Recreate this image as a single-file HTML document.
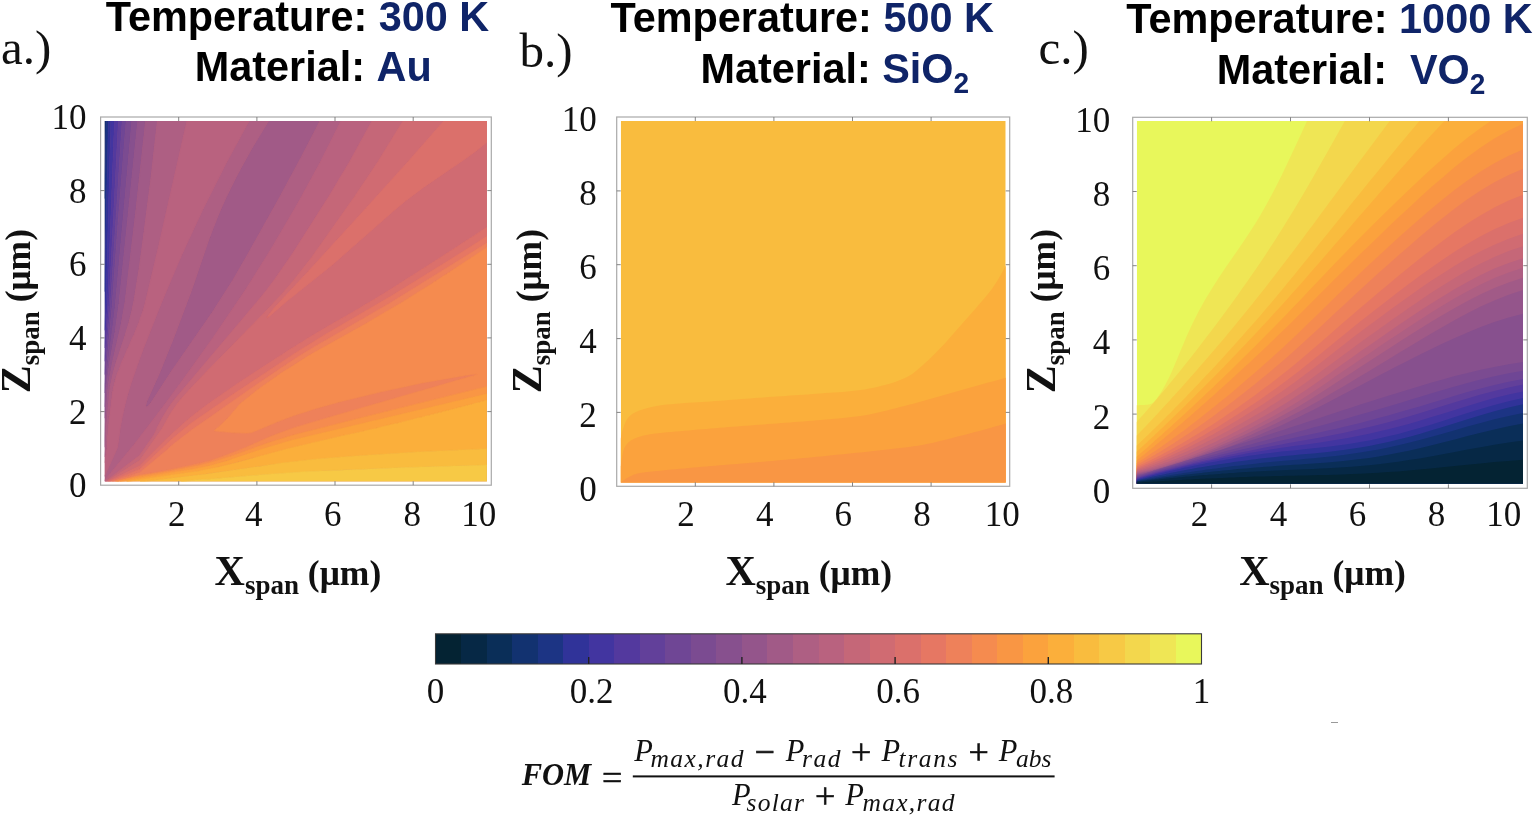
<!DOCTYPE html><html><head><meta charset="utf-8"><title>FOM contour figure</title>
<style>html,body{margin:0;padding:0;background:#fff;}svg{display:block}.ss{font-family:"Liberation Sans",sans-serif;font-weight:bold}.sr{font-family:"Liberation Serif",serif}.sb{font-family:"Liberation Serif",serif;font-weight:bold}.si{font-family:"Liberation Serif",serif;font-style:italic}</style></head><body>
<svg width="1534" height="818" viewBox="0 0 1534 818">
<rect width="1534" height="818" fill="#fff"/>
<clipPath id="clipa"><rect x="104.7" y="121.0" width="382.2" height="360.6"/></clipPath>
<g clip-path="url(#clipa)">
<rect x="104.7" y="121.0" width="382.2" height="360.6" fill="#d06b72"/><path d="M104.5 198.6l1.7 -77.9 -1.7 0Z" fill="#123270" stroke="#123270" stroke-width="0.6" fill-rule="evenodd"/>
<path d="M104.5 291.6l3.9 -170.9 -2.2 0 -1.7 78Z" fill="#1c3484" stroke="#1c3484" stroke-width="0.6" fill-rule="evenodd"/>
<path d="M104.5 329.6l1.1 -17 0.9 -26 4.3 -165.9 -2.4 0 -3.9 170.9 0 38.7Z" fill="#303399" stroke="#303399" stroke-width="0.6" fill-rule="evenodd"/>
<path d="M104.6 347.6l3 -45 6.9 -181.9 -3.7 0 -4.3 165.9 -0.9 26 -1.1 17.7 0 17.7Z" fill="#4235a0" stroke="#4235a0" stroke-width="0.6" fill-rule="evenodd"/>
<path d="M104.6 360.6l4.3 -55 9.5 -184.9 -3.9 0 -6.8 179.9 -1.3 23 -1.9 24.4 0 13.3Z" fill="#53399e" stroke="#53399e" stroke-width="0.6" fill-rule="evenodd"/>
<path d="M104.5 374.6l5.8 -67 11.9 -186.9 -3.8 0 -9.5 184.9 -4.4 55.7Z" fill="#62409a" stroke="#62409a" stroke-width="0.6" fill-rule="evenodd"/>
<path d="M104.5 392.6l2 -28.2 5.6 -57.8 6.4 -90.1 7.7 -95.8 -4 0 -11.9 186.9 -5.8 67.2 0 18.2Z" fill="#6f4695" stroke="#6f4695" stroke-width="0.6" fill-rule="evenodd"/>
<path d="M104.5 406.6l1.2 -21 1.3 -13 6.3 -49 2.1 -19 16.5 -183.9 -5.7 0 -0.7 7 -7 88.8 -6.4 90.1 -7.2 77 -0.4 9.4 0 13.9Z" fill="#7b4b91" stroke="#7b4b91" stroke-width="0.6" fill-rule="evenodd"/>
<path d="M104.6 417.5l1.9 -31.2 1 -8.9 2 -13.8 5.6 -32 3.9 -28 18.8 -182.9 -5.9 0 -16.8 186.9 -6.8 54 -2.4 22 -1.4 23.3 0 11.3Z" fill="#87508e" stroke="#87508e" stroke-width="0.6" fill-rule="evenodd"/>
<path d="M104.5 446.5l1 -25.5 2 -28.6 1 -8.8 4 -21.7 8.8 -38.3 3.8 -22 11 -93 9.5 -87.9 -7.8 0 -0.3 2 -18.5 180.9 -3.9 28 -5.6 32 -3 22.7 -2 31.9 0 29Z" fill="#94558b" stroke="#94558b" stroke-width="0.6" fill-rule="evenodd"/>
<path d="M104.6 456.5l1.1 -8 0.8 -22 1 -13 3 -28.4 3 -13.5 3 -10.2 8.5 -25.8 3.9 -13 3 -12 2.1 -10 5.1 -32 5 -37 7 -54.9 6.3 -56 -11.8 0 -9.5 87.9 -11 93 -3.8 22 -8.8 38.3 -4 21.7 -1 9 -2.4 35.9 -0.5 12 -0.1 16.4ZM146.5 407.2l2.3 -1.6 2.7 -3.5 19.8 -30.5 40.9 -59 20.3 -31.9 14 -24.1 33 -59.1 22 -40.8 18.6 -36 -51.4 0 -11.2 18 -7 12 -13 23.8 -12 24.1 -8 18.3 -8 20.7 -18.4 54 -17.6 46.6 -14 34.8 -12.8 28.6 -1.1 4Z" fill="#a15a87" stroke="#a15a87" stroke-width="0.6" fill-rule="evenodd"/>
<path d="M105.4 479.5l29.6 -36 36.5 -47.9 39 -54.1 34.6 -50.9 22.7 -36 27.1 -46 25.1 -45.9 21.1 -42 -21 0 -18.6 36 -22 40.8 -33 59.1 -14 24.1 -20.3 31.9 -40.9 59 -19.8 30.5 -2.7 3.5 -2.3 1.6 -0.9 -1.6 1.1 -4 12.8 -28.6 14 -34.8 18.3 -48.6 17.7 -52 11 -27.9 10 -21.4 10 -19.6 10 -18 18.2 -30 -19.5 0 -22.3 41 -24.1 47.9 -16 34 -10.7 24 -19 46 -17.9 46 -9.7 28.5 -4 14 -3.2 14.4 -2.2 12 -2.6 19 -12.7 28 -0.3 5ZM105.1 461.5l0.4 -5 0.8 -2 0.2 -4 0.8 -2 0.2 -12 0.7 -3 0.3 -8.1 0.7 -2.9 0.3 -6.2 0.7 -2.8 0.3 -5.7 0.7 -2.2 0.3 -5.9 0.7 -2.1 0.3 -5.3 0.6 -1.7 0.4 -4.1 0.6 -0.9 0.4 -2.8 0.7 -1.2 0.3 -2.2 2 -6.3 1.7 -3.5 2.3 -7 2.5 -5 3.5 -8.8 0.9 -1.2 4.1 -10.1 1.6 -2.9 4.8 -12 4.2 -12 2 -7 13 -55 28.9 -127.9 -29.6 0 -6.3 56 -7 54.9 -5 37 -5.1 32 -2.1 10 -3 12 -3.9 13 -8.5 25.8 -3 10.2 -3 13.5 -1 7.1 -3 34.2 -0.8 22.1 -1.2 8.4 0 5.6Z" fill="#ae5f83" stroke="#ae5f83" stroke-width="0.6" fill-rule="evenodd"/>
<path d="M105.5 481.4l34 -25.9 14 -20 3 -5.6 0.2 -1.4 6.4 -12 6.9 -10.9 4.5 -6.2 82 -96.9 9 -11 9 -11.9 17.4 -25 36.9 -58 20.8 -34.9 22.5 -41 -31 0 -21.1 42 -18.9 34.9 -27.3 47 -28 45 -33.3 49 -30 42 -29 39 -18.5 23.9 -30.5 37 0 1ZM104.5 476.5l13 -29 2.6 -19 3.4 -17.8 4 -16 5 -15.9 10.8 -30.2 18.6 -47 20 -47 20.9 -45 24.1 -47.9 22.3 -41 -62.2 0 -28.9 127.9 -13 55 -2 7 -4.2 12 -4.8 12 -1.6 2.9 -4.1 10.1 -0.9 1.2 -3.5 8.8 -2.5 5 -2.3 7 -1.7 3.5 -2 6.3 -0.3 2.2 -0.7 1.2 -0.4 2.8 -0.6 0.9 -0.4 4.1 -0.6 1.7 -0.3 5.3 -0.7 2.1 -0.3 5.9 -0.7 2.2 -0.3 5.7 -0.7 2.8 -0.3 6.2 -0.7 2.9 -0.3 8.1 -0.7 3 -0.2 12 -0.8 2 -0.2 4 -0.8 2 -0.2 4 -0.8 2Z" fill="#b9627f" stroke="#b9627f" stroke-width="0.6" fill-rule="evenodd"/>
<path d="M105.5 481.5l0.9 0 1.1 -0.6 32 -20.3 22.7 -32.1 8.3 -15 6 -8.7 5 -6.3 9 -10 16.2 -16.9 56.8 -58 18 -19 12 -14 18 -23 43.2 -61 23.3 -34.9 25.2 -41 -31.1 0 -22.5 41 -20.8 34.9 -36.9 58 -17.4 25 -9 11.9 -9 11 -82 96.9 -4.5 6.2 -6.9 10.9 -6.4 12 -0.2 1.4 -3 5.6 -14 20 -31 23.4Z" fill="#c56778" stroke="#c56778" stroke-width="0.6" fill-rule="evenodd"/>
<path d="M106.5 481.5l1.6 0 31.4 -15.4 29 -29.1 19 -17.1 10 -8 12 -8.9 32 -22.1 40 -26 1 -0.3 2 -1.6 8 -5.2 1 -0.2 2 -1.7 1 -0.3 3.9 -2.8 1.1 -0.2 6.9 -4.8 1.1 -0.2 3.9 -2.8 1.1 -0.2 3.9 -2.8 1.1 -0.2 10.9 -6.8 1.1 -0.2 3.9 -2.8 1.1 -0.2 0.9 -0.9 1 -0.1 4 -2.7 1.1 -0.3 0.9 -0.9 1 -0.1 4 -2.8 1.1 -0.2 0.9 -0.9 1 -0.1 2 -1.7 1.1 -0.3 0.9 -0.9 1 -0.1 9 -5.8 1.1 -0.2 0.9 -0.9 1 -0.1 2 -1.8 1.1 -0.2 0.9 -0.9 1 -0.1 2 -1.8 1.1 -0.2 3.9 -2.8 1.1 -0.2 3.9 -2.9 1 -0.1 2 -1.8 1.1 -0.2 3.9 -2.9 1 -0.1 2 -1.8 1 -0.2 2 -1.8 1 -0.2 7 -4.9 1 -0.1 2 -1.8 1 -0.2 2 -1.7 1.1 -0.3 3.9 -2.9 1 -0.1 2 -1.8 1 -0.2 2 -1.7 1 -0.3 4 -2.9 1 -0.1 2 -1.8 1 -0.2 2 -1.8 1 -0.2 2 -1.7 1 -0.3 4 -2.9 0.7 -0.1 2.3 -1.8 1 -0.2 2 -1.8 1 -0.2 2 -1.7 1 -0.3 2 -1.6 1 -0.4 7 -4.8 0.7 -0.2 2.3 -1.8 1 -0.2 2 -1.8 1 -0.2 2 -1.7 1 -0.3 2 -1.7 1 -0.3 2 -1.7 1 -0.3 2 -1.6 4 -2.4 1 -0.9 0 -84.9 -9.7 7.9 -10.8 8 -43.5 29.7 -17 12.9 -13 10.8 -45 39.8 -17 14.6 -45 36.1 -17.9 15.4 -0.9 -0.4 2.9 -4.1 4 -4.9 33.6 -36 57.6 -63 42.3 -46.9 36.1 -41 -40.9 0 -25.2 41 -23.3 34.9 -43.2 61 -18 23 -12 14 -18 19 -56.8 58 -16.2 16.9 -9 10 -5 6.3 -6 8.7 -8.3 15 -22.7 32.1ZM267.0 317.6l0.5 -0.7 0.2 0.7Z" fill="#d06b72" stroke="#d06b72" stroke-width="0.6" fill-rule="evenodd"/>
<path d="M108.5 481.5l1.2 0 29.8 -12.1 33 -30.9 13 -11 12 -8.9 45 -30.6 45 -29.8 21.9 -14.1 76.1 -44.5 51.9 -32 49.3 -31 0.7 -0.5 0 -9.4 -7 4.9 -1 0.3 -2 1.7 -1 0.3 -2 1.7 -1 0.3 -2 1.7 -1 0.2 -2 1.8 -1 0.2 -2.3 1.8 -0.7 0.2 -7 4.8 -1 0.4 -2 1.6 -1 0.3 -2 1.7 -1 0.2 -2 1.8 -1 0.2 -2.3 1.8 -0.7 0.1 -4 2.9 -1 0.3 -2 1.7 -1 0.2 -2 1.8 -1 0.2 -2 1.8 -1 0.1 -4 2.9 -1 0.3 -2 1.7 -1 0.2 -2 1.8 -1 0.1 -3.9 2.9 -1.1 0.3 -2 1.7 -1 0.2 -2 1.8 -1 0.1 -7 4.9 -1 0.2 -2 1.8 -1 0.2 -2 1.8 -1 0.1 -3.9 2.9 -1.1 0.2 -2 1.8 -1 0.1 -3.9 2.9 -1.1 0.2 -3.9 2.8 -1.1 0.2 -2 1.8 -1 0.1 -0.9 0.9 -1.1 0.2 -2 1.8 -1 0.1 -0.9 0.9 -1.1 0.2 -9 5.8 -1 0.1 -0.9 0.9 -1.1 0.3 -2 1.7 -1 0.1 -0.9 0.9 -1.1 0.2 -4 2.8 -1 0.1 -0.9 0.9 -1.1 0.3 -4 2.7 -1 0.1 -0.9 0.9 -1.1 0.2 -3.9 2.8 -1.1 0.2 -10.9 6.8 -1.1 0.2 -3.9 2.8 -1.1 0.2 -3.9 2.8 -1.1 0.2 -6.9 4.8 -1.1 0.2 -3.9 2.8 -1 0.3 -2 1.7 -1 0.2 -8 5.2 -2 1.6 -1 0.3 -43 28 -29 20.1 -12 8.9 -10 8 -19 17.1 -29 29.1 -31.4 15.4ZM267.5 317.8l0.2 -0.2 -0.2 -0.7 -0.5 0.7ZM268.5 317.0l17.9 -15.4 46 -36.9 61 -53.6 12 -10.1 18 -13.6 43.5 -29.7 10.8 -8 9.7 -7.9 0 -21.1 -43.3 0 -36.1 41 -42.3 46.9 -57.6 63 -33.6 36 -4 4.9 -2.9 4.1Z" fill="#db706b" stroke="#db706b" stroke-width="0.6" fill-rule="evenodd"/>
<path d="M110.5 481.5l3 -0.4 14 -4.5 1 -0.6 2 -0.4 1 -0.6 2 -0.4 1 -0.6 5 -1.3 28 -23.2 1 -1.3 4 -3.4 15 -11.8 31 -22 46 -31.9 27 -18 16.9 -10.8 18 -10.7 60 -34.5 101 -62.4 0 -6.6 -42 26.5 -55 34 -66 38.4 -28.9 17.9 -62 41.1 -42.8 29.5 -18.2 15 -33 30.9 -29.8 12.1Z" fill="#e67763" stroke="#e67763" stroke-width="0.6" fill-rule="evenodd"/>
<path d="M112.5 481.5l2.5 0 0.5 -0.4 3 -0.4 1 -0.6 3 -0.5 17 -4.5 10.7 -1.6 20.3 -3.8 28.9 -6.2 10.1 -2.6 12.9 -4.4 13.3 -5 9.9 -4 25.9 -11.5 22 -8.1 35.9 -10.7 144.3 -41.6 0.7 -0.6 2.7 -0.4 -0.7 -0.5 -1 0 -10 1.3 -43 7.5 -42 9.1 -42 10.2 -23 6.5 -21.9 7 -16 6.1 -26 10.9 -5 0.4 -12 -0.3 -19 -1.7 -1.2 -0.6 7 -6 6.2 -6 12.8 -14.9 15.2 -12.3 20.3 -14.7 16.6 -11 18 -11 70 -39.4 41 -25 24 -15.6 1 -0.3 2 -1.7 4 -2.2 33 -21.9 2 -1.5 0 -4.3 -99 61.2 -71 41 -15 9.1 -16.9 11 -31 20.9 -64 44.9 -18 14 -4 3.4 -1 1.3 -28 23.2 -5 1.3 -1 0.6 -2 0.4 -1 0.6 -2 0.4 -1 0.6 -15.7 4.9Z" fill="#ee815a" stroke="#ee815a" stroke-width="0.6" fill-rule="evenodd"/>
<path d="M115.5 481.5l3 -0.3 19 -4.7 33 -5.5 30 -5.9 8 -2 22 -6.9 40 -14.2 23 -7 66.9 -17.1 127 -31.6 0 -139.3 -38 25.3 -1 0.3 -2 1.7 -1 0.3 -10 6.7 -1 0.3 -2 1.6 -32 20 -34 20.1 -56 31.3 -28.9 18.1 -23 16.3 -18.2 14.6 -12.8 14.9 -6.2 6 -7 6 1.2 0.6 19 1.7 12 0.3 5 -0.4 26 -10.9 16 -6.1 21.9 -7 23 -6.5 42 -10.2 42 -9.1 43 -7.5 10 -1.3 1 0 0.7 0.5 -2.7 0.4 -0.7 0.6 -144.3 41.6 -35.9 10.7 -22 8.1 -25.9 11.5 -9.9 4 -13.3 5 -12.9 4.4 -10.1 2.6 -28.9 6.2 -20.3 3.8 -10.7 1.6 -17 4.5 -3 0.5 -1 0.6 -3 0.4 -0.5 0.4Z" fill="#f58b4f" stroke="#f58b4f" stroke-width="0.6" fill-rule="evenodd"/>
<path d="M116.5 481.5l3.6 0 19.4 -3.6 31 -4.9 30 -5.2 10 -2.2 22 -6.5 34.1 -11.6 23.9 -7 196.9 -46.8 0 -7.4 -127 31.6 -66.9 17.1 -23 7 -40 14.2 -22 6.9 -8 2 -30 5.9 -33 5.5Z" fill="#f99644" stroke="#f99644" stroke-width="0.6" fill-rule="evenodd"/>
<path d="M120.5 481.5l6.2 0 51.8 -7.4 26 -4.1 18 -3.9 65.5 -17.6 55.4 -13 20 -4.3 6 -1.7 7 -1.3 10 -2.7 3 -0.4 1 -0.6 3 -0.4 1.2 -0.6 2.8 -0.3 21.7 -5.7 2.3 -0.3 5.4 -1.7 2.6 -0.3 1.3 -0.7 2.7 -0.3 1.1 -0.7 2.9 -0.3 1 -0.7 3 -0.3 1 -0.7 3 -0.4 0.9 -0.5 2.1 -0.2 1.9 -0.8 2.1 -0.3 1.9 -0.7 2.1 -0.3 1.8 -0.7 2.2 -0.3 1.6 -0.7 2.4 -0.3 1.1 -0.7 1.9 -0.2 1.9 -0.8 2.1 -0.2 1.9 -0.8 6.1 -1.3 1.3 -0.7 2.7 -0.4 1 -0.6 3 -0.4 0 -6.5 -196.9 46.8 -27 8 -37 12.5 -18 5.1 -15 2.9 -54 8.9 -19.4 3.6Z" fill="#fba23d" stroke="#fba23d" stroke-width="0.6" fill-rule="evenodd"/>
<path d="M127.5 481.5l17 -0.2 54 -6.2 84 -12.2 34.9 -4 37 -2.9 63 -4.1 70 -3.2 0 -48.5 -3 0.4 -1 0.6 -2.7 0.4 -1.3 0.7 -6.1 1.3 -1.9 0.8 -2.1 0.2 -1.9 0.8 -1.9 0.2 -1.1 0.7 -2.4 0.3 -1.6 0.7 -2.2 0.3 -1.8 0.7 -2.1 0.3 -1.9 0.7 -2.1 0.3 -1.9 0.8 -2.1 0.2 -0.9 0.5 -3 0.4 -1 0.7 -3 0.3 -1 0.7 -2.9 0.3 -1.1 0.7 -2.7 0.3 -1.3 0.7 -2.6 0.3 -5.4 1.7 -2.3 0.3 -21.7 5.7 -2.8 0.3 -1.2 0.6 -3 0.4 -1 0.6 -3 0.4 -10 2.7 -7 1.3 -6 1.7 -20 4.3 -55.4 13 -49.5 13.5 -20 5 -20 4 -71.8 10.5Z" fill="#fbaf3b" stroke="#fbaf3b" stroke-width="0.6" fill-rule="evenodd"/>
<path d="M140.5 481.5l40.7 0 19.3 -2 8 -0.3 56.2 -4.7 63.6 -4 76.6 -3 82.5 -2.4 0 -16.4 -71 3.3 -62 4 -38 3 -34.9 4.1 -75 11 -61 7.1 -5.5 0.3Z" fill="#f9bc3e" stroke="#f9bc3e" stroke-width="0.6" fill-rule="evenodd"/>
<path d="M181.5 481.5l305.9 0 0 -16.4 -82.5 2.4 -95.9 4 -44.3 3 -56.2 4.7 -8 0.3 -19.3 2Z" fill="#f7c945" stroke="#f7c945" stroke-width="0.6" fill-rule="evenodd"/>
</g>
<rect x="100.6" y="117.0" width="390.7" height="368.2" fill="none" stroke="#a9a9a9" stroke-width="1.2"/>
<path d="M178.7 485.2v-4 M178.7 117.0v4 M100.6 411.6h4 M491.3 411.6h-4 M256.9 485.2v-4 M256.9 117.0v4 M100.6 337.9h4 M491.3 337.9h-4 M335.0 485.2v-4 M335.0 117.0v4 M100.6 264.3h4 M491.3 264.3h-4 M413.2 485.2v-4 M413.2 117.0v4 M100.6 190.6h4 M491.3 190.6h-4" stroke="#777" stroke-width="0.9" fill="none"/>
<clipPath id="clipb"><rect x="620.8" y="121.0" width="384.9" height="361.5"/></clipPath>
<g clip-path="url(#clipb)">
<rect x="620.8" y="121.0" width="384.9" height="361.5" fill="#f9bc3e"/>
<path d="M620.6 438.3 L621.8 432.7 L623.1 428.7 L624.3 425.1 L625.5 422.1 L626.7 419.7 L627.9 417.9 L629.2 416.6 L630.4 415.5 L631.6 414.5 L632.8 413.6 L634.0 412.9 L635.3 412.3 L636.5 411.7 L637.7 411.2 L638.9 410.7 L640.1 410.3 L641.4 409.9 L642.6 409.5 L643.8 409.1 L645.0 408.7 L646.2 408.4 L647.5 408.0 L648.7 407.7 L649.9 407.4 L651.1 407.1 L652.3 406.9 L653.6 406.6 L654.8 406.4 L656.0 406.1 L658.0 405.8 L662.4 405.1 L666.8 404.6 L671.2 404.2 L675.6 403.8 L680.0 403.4 L684.4 403.1 L688.8 402.8 L693.2 402.6 L697.6 402.3 L702.0 402.0 L706.4 401.7 L710.8 401.4 L715.2 401.1 L719.6 400.8 L724.0 400.4 L728.4 400.1 L732.8 399.8 L737.2 399.4 L741.6 399.1 L746.0 398.7 L750.4 398.4 L754.8 398.1 L759.2 397.8 L763.6 397.4 L768.0 397.1 L772.4 396.8 L776.8 396.5 L781.2 396.2 L785.6 395.9 L790.0 395.6 L794.4 395.3 L798.8 395.0 L803.3 394.7 L807.7 394.4 L812.1 394.1 L816.5 393.7 L820.9 393.4 L825.3 393.1 L829.7 392.8 L834.1 392.5 L838.5 392.2 L842.9 391.9 L847.3 391.5 L851.7 391.1 L856.1 390.6 L860.5 390.1 L864.9 389.4 L869.3 388.6 L873.7 387.7 L878.1 386.7 L882.5 385.6 L886.9 384.5 L891.3 383.2 L895.7 381.8 L900.1 380.1 L904.5 378.2 L908.9 376.1 L913.3 373.2 L917.7 369.6 L922.1 365.7 L926.5 361.8 L930.9 357.7 L935.3 353.3 L939.7 348.8 L944.1 344.2 L948.5 339.3 L952.9 334.3 L957.3 329.2 L961.7 324.2 L966.1 319.2 L970.5 314.2 L975.0 309.2 L979.4 304.1 L983.8 299.0 L988.2 293.8 L992.6 287.9 L997.0 281.2 L1001.4 273.7 L1005.8 265.5 L1007.7 265.5 L1007.7 484.5 L618.8 484.5 L618.8 438.3Z" fill="#fbaf3b"/>
<path d="M620.6 466.0 L621.8 458.6 L623.1 451.5 L624.3 448.0 L625.5 446.0 L626.7 444.3 L627.9 442.9 L629.2 441.8 L630.4 440.8 L631.6 440.1 L632.8 439.4 L634.0 438.8 L635.3 438.3 L636.5 437.8 L637.7 437.3 L638.9 436.9 L640.1 436.5 L641.4 436.2 L642.6 435.8 L643.8 435.5 L645.0 435.2 L646.2 435.0 L647.5 434.8 L648.7 434.5 L649.9 434.3 L651.1 434.1 L652.3 433.9 L653.6 433.8 L654.8 433.6 L656.0 433.4 L658.0 433.2 L662.4 432.7 L666.8 432.3 L671.2 431.9 L675.6 431.5 L680.0 431.2 L684.4 430.8 L688.8 430.4 L693.2 430.0 L697.6 429.6 L702.0 429.3 L706.4 428.9 L710.8 428.5 L715.2 428.2 L719.6 427.8 L724.0 427.4 L728.4 427.1 L732.8 426.7 L737.2 426.4 L741.6 426.0 L746.0 425.7 L750.4 425.4 L754.8 425.1 L759.2 424.7 L763.6 424.4 L768.0 424.1 L772.4 423.8 L776.8 423.4 L781.2 423.1 L785.6 422.8 L790.0 422.4 L794.4 422.1 L798.8 421.7 L803.3 421.4 L807.7 421.0 L812.1 420.7 L816.5 420.3 L820.9 419.9 L825.3 419.5 L829.7 419.2 L834.1 418.8 L838.5 418.4 L842.9 418.0 L847.3 417.5 L851.7 417.0 L856.1 416.5 L860.5 415.9 L864.9 415.2 L869.3 414.4 L873.7 413.5 L878.1 412.5 L882.5 411.5 L886.9 410.4 L891.3 409.3 L895.7 408.2 L900.1 407.0 L904.5 405.9 L908.9 404.8 L913.3 403.7 L917.7 402.5 L922.1 401.3 L926.5 400.0 L930.9 398.8 L935.3 397.5 L939.7 396.2 L944.1 395.0 L948.5 393.7 L952.9 392.4 L957.3 391.2 L961.7 390.0 L966.1 388.7 L970.5 387.5 L975.0 386.3 L979.4 385.1 L983.8 383.8 L988.2 382.6 L992.6 381.4 L997.0 380.2 L1001.4 378.9 L1005.8 377.7 L1007.7 377.7 L1007.7 484.5 L618.8 484.5 L618.8 466.0Z" fill="#fba23d"/>
<path d="M620.6 482.6 L621.8 481.6 L623.1 480.7 L624.3 479.9 L625.5 479.1 L626.7 478.3 L627.9 477.6 L629.2 476.9 L630.4 476.3 L631.6 475.7 L632.8 475.1 L634.0 474.6 L635.3 474.2 L636.5 473.8 L637.7 473.5 L638.9 473.3 L640.1 473.0 L641.4 472.8 L642.6 472.6 L643.8 472.4 L645.0 472.3 L646.2 472.1 L647.5 472.0 L648.7 471.8 L649.9 471.7 L651.1 471.6 L652.3 471.4 L653.6 471.3 L654.8 471.2 L656.0 471.1 L658.0 470.9 L662.4 470.5 L666.8 470.0 L671.2 469.6 L675.6 469.2 L680.0 468.8 L684.4 468.4 L688.8 468.0 L693.2 467.6 L697.6 467.2 L702.0 466.8 L706.4 466.5 L710.8 466.1 L715.2 465.7 L719.6 465.3 L724.0 465.0 L728.4 464.6 L732.8 464.2 L737.2 463.9 L741.6 463.5 L746.0 463.2 L750.4 462.8 L754.8 462.4 L759.2 462.0 L763.6 461.7 L768.0 461.3 L772.4 460.9 L776.8 460.5 L781.2 460.1 L785.6 459.7 L790.0 459.3 L794.4 458.9 L798.8 458.5 L803.3 458.1 L807.7 457.7 L812.1 457.2 L816.5 456.8 L820.9 456.4 L825.3 456.0 L829.7 455.5 L834.1 455.1 L838.5 454.6 L842.9 454.2 L847.3 453.7 L851.7 453.3 L856.1 452.8 L860.5 452.4 L864.9 451.9 L869.3 451.4 L873.7 450.9 L878.1 450.4 L882.5 450.0 L886.9 449.5 L891.3 449.0 L895.7 448.6 L900.1 448.0 L904.5 447.5 L908.9 446.9 L913.3 446.3 L917.7 445.7 L922.1 445.0 L926.5 444.1 L930.9 443.2 L935.3 442.2 L939.7 441.1 L944.1 440.0 L948.5 438.9 L952.9 437.7 L957.3 436.6 L961.7 435.5 L966.1 434.4 L970.5 433.3 L975.0 432.1 L979.4 430.9 L983.8 429.7 L988.2 428.5 L992.6 427.3 L997.0 426.1 L1001.4 424.8 L1005.8 423.5 L1007.7 423.5 L1007.7 484.5 L618.8 484.5 L618.8 482.6Z" fill="#f99644"/>
</g>
<rect x="616.7" y="117.0" width="393.0" height="369.3" fill="none" stroke="#a9a9a9" stroke-width="1.2"/>
<path d="M695.3 486.3v-4 M695.3 117.0v4 M616.7 412.4h4 M1009.7 412.4h-4 M773.9 486.3v-4 M773.9 117.0v4 M616.7 338.6h4 M1009.7 338.6h-4 M852.5 486.3v-4 M852.5 117.0v4 M616.7 264.7h4 M1009.7 264.7h-4 M931.1 486.3v-4 M931.1 117.0v4 M616.7 190.9h4 M1009.7 190.9h-4" stroke="#777" stroke-width="0.9" fill="none"/>
<clipPath id="clipc"><rect x="1136.8" y="121.0" width="386.2" height="362.5"/></clipPath>
<g clip-path="url(#clipc)">
<rect x="1136.8" y="121.0" width="386.2" height="362.5" fill="#e8f75b"/>
<path d="M1136.6 405.2 L1136.8 405.2 L1137.0 405.2 L1137.1 405.2 L1137.3 405.2 L1137.5 405.2 L1137.7 405.2 L1137.9 405.2 L1138.1 405.2 L1138.3 405.2 L1138.5 405.2 L1138.7 405.2 L1139.0 405.2 L1139.2 405.2 L1139.5 405.2 L1139.7 405.1 L1140.0 405.1 L1140.3 405.1 L1140.6 405.1 L1140.9 405.1 L1141.2 405.1 L1141.6 405.1 L1141.9 405.1 L1142.3 405.0 L1142.7 405.0 L1143.1 405.0 L1143.5 405.0 L1143.9 404.9 L1144.3 404.9 L1144.8 404.9 L1145.3 404.8 L1145.8 404.8 L1146.3 404.8 L1146.8 404.7 L1147.4 404.7 L1147.9 404.6 L1148.5 404.5 L1149.2 404.4 L1149.8 404.3 L1150.5 404.1 L1151.2 403.8 L1151.9 403.4 L1152.7 402.9 L1153.5 402.2 L1154.3 401.5 L1155.1 400.6 L1156.0 399.6 L1156.9 398.4 L1157.9 397.1 L1158.9 395.6 L1159.9 394.1 L1161.0 392.4 L1162.1 390.5 L1163.2 388.5 L1164.4 386.4 L1165.7 384.1 L1167.0 381.6 L1168.3 378.9 L1169.8 376.0 L1171.2 372.9 L1172.7 369.5 L1174.3 365.8 L1175.9 362.0 L1177.6 357.9 L1179.4 353.6 L1181.3 349.1 L1183.2 344.5 L1185.2 339.8 L1187.2 335.0 L1189.4 330.2 L1191.6 325.4 L1193.9 320.7 L1196.3 315.9 L1198.8 311.1 L1201.4 306.4 L1204.1 301.6 L1206.9 296.8 L1209.9 291.9 L1212.9 287.0 L1216.1 282.0 L1219.3 277.0 L1222.8 271.8 L1226.3 266.6 L1230.0 261.2 L1233.8 255.7 L1237.8 250.0 L1241.9 243.9 L1246.2 237.6 L1250.7 230.8 L1255.4 223.5 L1260.2 215.5 L1265.2 206.8 L1270.4 197.3 L1275.8 186.9 L1281.5 175.7 L1287.3 163.5 L1293.4 150.6 L1299.8 136.8 L1306.3 122.5 L1313.2 107.5 L1320.3 92.0 L1327.7 76.0 L1335.3 59.6 L1343.3 42.8 L1351.6 25.7 L1360.2 8.2 L1369.2 -9.6 L1378.5 -27.8 L1388.2 -46.3 L1398.2 -65.2 L1408.7 -84.3 L1419.5 -103.6 L1430.8 -122.9 L1442.6 -142.0 L1454.8 -160.8 L1467.4 -178.8 L1480.6 -195.7 L1494.3 -211.2 L1508.6 -224.9 L1523.4 -236.7 L1525.0 -236.7 L1525.0 485.5 L1134.8 485.5 L1134.8 405.2Z" fill="#efe655"/>
<path d="M1136.6 421.9 L1136.8 421.7 L1137.0 421.5 L1137.1 421.4 L1137.3 421.2 L1137.5 421.0 L1137.7 420.8 L1137.9 420.5 L1138.1 420.3 L1138.3 420.1 L1138.5 419.9 L1138.7 419.6 L1139.0 419.3 L1139.2 419.1 L1139.5 418.8 L1139.7 418.5 L1140.0 418.2 L1140.3 417.9 L1140.6 417.5 L1140.9 417.2 L1141.2 416.8 L1141.6 416.5 L1141.9 416.1 L1142.3 415.7 L1142.7 415.2 L1143.1 414.8 L1143.5 414.3 L1143.9 413.9 L1144.3 413.4 L1144.8 412.9 L1145.3 412.3 L1145.8 411.8 L1146.3 411.2 L1146.8 410.6 L1147.4 409.9 L1147.9 409.3 L1148.5 408.6 L1149.2 407.9 L1149.8 407.1 L1150.5 406.4 L1151.2 405.6 L1151.9 404.7 L1152.7 403.8 L1153.5 402.9 L1154.3 402.0 L1155.1 401.0 L1156.0 399.9 L1156.9 398.9 L1157.9 397.7 L1158.9 396.6 L1159.9 395.4 L1161.0 394.1 L1162.1 392.8 L1163.2 391.4 L1164.4 389.9 L1165.7 388.4 L1167.0 386.9 L1168.3 385.2 L1169.8 383.5 L1171.2 381.8 L1172.7 379.9 L1174.3 378.0 L1175.9 376.0 L1177.6 373.9 L1179.4 371.7 L1181.3 369.4 L1183.2 367.0 L1185.2 364.6 L1187.2 362.0 L1189.4 359.3 L1191.6 356.4 L1193.9 353.5 L1196.3 350.4 L1198.8 347.2 L1201.4 343.8 L1204.1 340.3 L1206.9 336.6 L1209.9 332.8 L1212.9 328.8 L1216.1 324.6 L1219.3 320.2 L1222.8 315.6 L1226.3 310.8 L1230.0 305.7 L1233.8 300.4 L1237.8 294.9 L1241.9 289.1 L1246.2 283.0 L1250.7 276.6 L1255.4 269.8 L1260.2 262.7 L1265.2 255.2 L1270.4 247.3 L1275.8 238.9 L1281.5 230.1 L1287.3 220.6 L1293.4 210.7 L1299.8 200.1 L1306.3 188.9 L1313.2 177.0 L1320.3 164.6 L1327.7 151.6 L1335.3 138.0 L1343.3 123.8 L1351.6 109.2 L1360.2 94.2 L1369.2 78.8 L1378.5 62.9 L1388.2 46.8 L1398.2 30.3 L1408.7 13.5 L1419.5 -3.4 L1430.8 -20.4 L1442.6 -37.3 L1454.8 -53.9 L1467.4 -69.8 L1480.6 -84.9 L1494.3 -98.6 L1508.6 -110.9 L1523.4 -121.3 L1525.0 -121.3 L1525.0 485.5 L1134.8 485.5 L1134.8 421.9Z" fill="#f3d74d"/>
<path d="M1136.6 435.6 L1136.8 435.5 L1137.0 435.3 L1137.1 435.1 L1137.3 434.9 L1137.5 434.8 L1137.7 434.6 L1137.9 434.4 L1138.1 434.2 L1138.3 433.9 L1138.5 433.7 L1138.7 433.5 L1139.0 433.2 L1139.2 433.0 L1139.5 432.7 L1139.7 432.4 L1140.0 432.2 L1140.3 431.9 L1140.6 431.6 L1140.9 431.2 L1141.2 430.9 L1141.6 430.6 L1141.9 430.2 L1142.3 429.8 L1142.7 429.4 L1143.1 429.0 L1143.5 428.6 L1143.9 428.2 L1144.3 427.7 L1144.8 427.2 L1145.3 426.7 L1145.8 426.2 L1146.3 425.7 L1146.8 425.1 L1147.4 424.5 L1147.9 423.9 L1148.5 423.3 L1149.2 422.6 L1149.8 421.9 L1150.5 421.2 L1151.2 420.5 L1151.9 419.7 L1152.7 418.9 L1153.5 418.1 L1154.3 417.2 L1155.1 416.3 L1156.0 415.3 L1156.9 414.4 L1157.9 413.3 L1158.9 412.3 L1159.9 411.1 L1161.0 410.0 L1162.1 408.8 L1163.2 407.5 L1164.4 406.2 L1165.7 404.8 L1167.0 403.4 L1168.3 401.9 L1169.8 400.4 L1171.2 398.8 L1172.7 397.1 L1174.3 395.4 L1175.9 393.6 L1177.6 391.7 L1179.4 389.7 L1181.3 387.7 L1183.2 385.5 L1185.2 383.3 L1187.2 381.0 L1189.4 378.6 L1191.6 376.1 L1193.9 373.4 L1196.3 370.7 L1198.8 367.8 L1201.4 364.8 L1204.1 361.7 L1206.9 358.4 L1209.9 355.0 L1212.9 351.5 L1216.1 347.8 L1219.3 343.9 L1222.8 339.9 L1226.3 335.7 L1230.0 331.3 L1233.8 326.7 L1237.8 321.8 L1241.9 316.8 L1246.2 311.5 L1250.7 305.9 L1255.4 300.1 L1260.2 294.1 L1265.2 287.7 L1270.4 281.0 L1275.8 274.0 L1281.5 266.6 L1287.3 258.9 L1293.4 250.9 L1299.8 242.5 L1306.3 233.6 L1313.2 224.4 L1320.3 214.8 L1327.7 204.8 L1335.3 194.4 L1343.3 183.6 L1351.6 172.3 L1360.2 160.6 L1369.2 148.5 L1378.5 136.0 L1388.2 123.1 L1398.2 109.8 L1408.7 96.2 L1419.5 82.3 L1430.8 68.2 L1442.6 54.0 L1454.8 39.8 L1467.4 26.1 L1480.6 12.9 L1494.3 0.8 L1508.6 -10.2 L1523.4 -19.7 L1525.0 -19.7 L1525.0 485.5 L1134.8 485.5 L1134.8 435.6Z" fill="#f7c945"/>
<path d="M1136.6 445.6 L1136.8 445.5 L1137.0 445.3 L1137.1 445.2 L1137.3 445.0 L1137.5 444.9 L1137.7 444.7 L1137.9 444.5 L1138.1 444.3 L1138.3 444.1 L1138.5 443.9 L1138.7 443.7 L1139.0 443.5 L1139.2 443.2 L1139.5 443.0 L1139.7 442.7 L1140.0 442.5 L1140.3 442.2 L1140.6 441.9 L1140.9 441.6 L1141.2 441.3 L1141.6 441.0 L1141.9 440.7 L1142.3 440.3 L1142.7 440.0 L1143.1 439.6 L1143.5 439.2 L1143.9 438.8 L1144.3 438.4 L1144.8 438.0 L1145.3 437.5 L1145.8 437.0 L1146.3 436.5 L1146.8 436.0 L1147.4 435.5 L1147.9 434.9 L1148.5 434.4 L1149.2 433.7 L1149.8 433.1 L1150.5 432.5 L1151.2 431.8 L1151.9 431.1 L1152.7 430.3 L1153.5 429.6 L1154.3 428.8 L1155.1 427.9 L1156.0 427.1 L1156.9 426.2 L1157.9 425.2 L1158.9 424.2 L1159.9 423.2 L1161.0 422.2 L1162.1 421.1 L1163.2 419.9 L1164.4 418.7 L1165.7 417.5 L1167.0 416.1 L1168.3 414.8 L1169.8 413.4 L1171.2 411.9 L1172.7 410.4 L1174.3 408.8 L1175.9 407.1 L1177.6 405.4 L1179.4 403.6 L1181.3 401.7 L1183.2 399.7 L1185.2 397.7 L1187.2 395.5 L1189.4 393.3 L1191.6 391.0 L1193.9 388.6 L1196.3 386.0 L1198.8 383.4 L1201.4 380.6 L1204.1 377.8 L1206.9 374.8 L1209.9 371.7 L1212.9 368.4 L1216.1 365.0 L1219.3 361.4 L1222.8 357.7 L1226.3 353.8 L1230.0 349.8 L1233.8 345.5 L1237.8 341.1 L1241.9 336.5 L1246.2 331.6 L1250.7 326.6 L1255.4 321.2 L1260.2 315.7 L1265.2 309.8 L1270.4 303.7 L1275.8 297.2 L1281.5 290.4 L1287.3 283.3 L1293.4 275.9 L1299.8 268.1 L1306.3 260.0 L1313.2 251.5 L1320.3 242.6 L1327.7 233.4 L1335.3 223.9 L1343.3 213.9 L1351.6 203.6 L1360.2 192.9 L1369.2 181.8 L1378.5 170.4 L1388.2 158.5 L1398.2 146.3 L1408.7 133.8 L1419.5 120.9 L1430.8 107.9 L1442.6 94.7 L1454.8 81.7 L1467.4 69.0 L1480.6 56.8 L1494.3 45.6 L1508.6 35.4 L1523.4 26.7 L1525.0 26.7 L1525.0 485.5 L1134.8 485.5 L1134.8 445.6Z" fill="#f9bc3e"/>
<path d="M1136.6 451.7 L1136.8 451.5 L1137.0 451.4 L1137.1 451.2 L1137.3 451.1 L1137.5 450.9 L1137.7 450.8 L1137.9 450.6 L1138.1 450.4 L1138.3 450.2 L1138.5 450.0 L1138.7 449.8 L1139.0 449.6 L1139.2 449.4 L1139.5 449.1 L1139.7 448.9 L1140.0 448.6 L1140.3 448.4 L1140.6 448.1 L1140.9 447.8 L1141.2 447.5 L1141.6 447.2 L1141.9 446.9 L1142.3 446.6 L1142.7 446.2 L1143.1 445.9 L1143.5 445.5 L1143.9 445.1 L1144.3 444.7 L1144.8 444.3 L1145.3 443.8 L1145.8 443.4 L1146.3 442.9 L1146.8 442.4 L1147.4 441.9 L1147.9 441.3 L1148.5 440.8 L1149.2 440.2 L1149.8 439.6 L1150.5 439.0 L1151.2 438.3 L1151.9 437.6 L1152.7 436.9 L1153.5 436.2 L1154.3 435.4 L1155.1 434.6 L1156.0 433.8 L1156.9 432.9 L1157.9 432.0 L1158.9 431.1 L1159.9 430.1 L1161.0 429.1 L1162.1 428.0 L1163.2 426.9 L1164.4 425.7 L1165.7 424.5 L1167.0 423.3 L1168.3 422.0 L1169.8 420.6 L1171.2 419.2 L1172.7 417.8 L1174.3 416.3 L1175.9 414.7 L1177.6 413.0 L1179.4 411.3 L1181.3 409.5 L1183.2 407.6 L1185.2 405.7 L1187.2 403.6 L1189.4 401.5 L1191.6 399.3 L1193.9 397.0 L1196.3 394.6 L1198.8 392.1 L1201.4 389.5 L1204.1 386.8 L1206.9 384.0 L1209.9 381.0 L1212.9 377.9 L1216.1 374.7 L1219.3 371.4 L1222.8 367.9 L1226.3 364.2 L1230.0 360.4 L1233.8 356.4 L1237.8 352.3 L1241.9 347.9 L1246.2 343.4 L1250.7 338.7 L1255.4 333.8 L1260.2 328.6 L1265.2 323.2 L1270.4 317.5 L1275.8 311.6 L1281.5 305.4 L1287.3 298.9 L1293.4 292.0 L1299.8 284.9 L1306.3 277.4 L1313.2 269.6 L1320.3 261.4 L1327.7 252.9 L1335.3 244.1 L1343.3 234.9 L1351.6 225.3 L1360.2 215.3 L1369.2 205.0 L1378.5 194.3 L1388.2 183.2 L1398.2 171.7 L1408.7 159.9 L1419.5 147.8 L1430.8 135.5 L1442.6 123.1 L1454.8 110.7 L1467.4 98.7 L1480.6 87.2 L1494.3 76.6 L1508.6 67.0 L1523.4 58.7 L1525.0 58.7 L1525.0 485.5 L1134.8 485.5 L1134.8 451.7Z" fill="#fbaf3b"/>
<path d="M1136.6 456.6 L1136.8 456.5 L1137.0 456.4 L1137.1 456.2 L1137.3 456.1 L1137.5 455.9 L1137.7 455.8 L1137.9 455.6 L1138.1 455.4 L1138.3 455.2 L1138.5 455.1 L1138.7 454.9 L1139.0 454.7 L1139.2 454.4 L1139.5 454.2 L1139.7 454.0 L1140.0 453.8 L1140.3 453.5 L1140.6 453.3 L1140.9 453.0 L1141.2 452.7 L1141.6 452.4 L1141.9 452.1 L1142.3 451.8 L1142.7 451.5 L1143.1 451.2 L1143.5 450.8 L1143.9 450.4 L1144.3 450.1 L1144.8 449.7 L1145.3 449.2 L1145.8 448.8 L1146.3 448.4 L1146.8 447.9 L1147.4 447.4 L1147.9 446.9 L1148.5 446.4 L1149.2 445.8 L1149.8 445.3 L1150.5 444.7 L1151.2 444.1 L1151.9 443.4 L1152.7 442.8 L1153.5 442.1 L1154.3 441.3 L1155.1 440.6 L1156.0 439.8 L1156.9 439.0 L1157.9 438.1 L1158.9 437.3 L1159.9 436.3 L1161.0 435.4 L1162.1 434.4 L1163.2 433.3 L1164.4 432.3 L1165.7 431.1 L1167.0 430.0 L1168.3 428.7 L1169.8 427.5 L1171.2 426.2 L1172.7 424.8 L1174.3 423.3 L1175.9 421.9 L1177.6 420.3 L1179.4 418.7 L1181.3 417.0 L1183.2 415.2 L1185.2 413.4 L1187.2 411.5 L1189.4 409.5 L1191.6 407.5 L1193.9 405.3 L1196.3 403.0 L1198.8 400.7 L1201.4 398.2 L1204.1 395.7 L1206.9 393.0 L1209.9 390.3 L1212.9 387.4 L1216.1 384.3 L1219.3 381.2 L1222.8 377.9 L1226.3 374.5 L1230.0 370.9 L1233.8 367.2 L1237.8 363.3 L1241.9 359.2 L1246.2 355.0 L1250.7 350.6 L1255.4 345.9 L1260.2 341.1 L1265.2 336.0 L1270.4 330.8 L1275.8 325.2 L1281.5 319.4 L1287.3 313.4 L1293.4 307.0 L1299.8 300.4 L1306.3 293.5 L1313.2 286.2 L1320.3 278.8 L1327.7 271.0 L1335.3 263.0 L1343.3 254.8 L1351.6 246.3 L1360.2 237.5 L1369.2 228.5 L1378.5 219.3 L1388.2 209.8 L1398.2 200.0 L1408.7 190.0 L1419.5 179.7 L1430.8 169.2 L1442.6 158.7 L1454.8 148.1 L1467.4 137.8 L1480.6 127.9 L1494.3 118.6 L1508.6 110.3 L1523.4 103.0 L1525.0 103.0 L1525.0 485.5 L1134.8 485.5 L1134.8 456.6Z" fill="#fba23d"/>
<path d="M1136.6 460.4 L1136.8 460.3 L1137.0 460.2 L1137.1 460.1 L1137.3 459.9 L1137.5 459.8 L1137.7 459.6 L1137.9 459.5 L1138.1 459.3 L1138.3 459.2 L1138.5 459.0 L1138.7 458.8 L1139.0 458.6 L1139.2 458.4 L1139.5 458.2 L1139.7 458.0 L1140.0 457.8 L1140.3 457.6 L1140.6 457.3 L1140.9 457.1 L1141.2 456.8 L1141.6 456.6 L1141.9 456.3 L1142.3 456.0 L1142.7 455.7 L1143.1 455.4 L1143.5 455.0 L1143.9 454.7 L1144.3 454.4 L1144.8 454.0 L1145.3 453.6 L1145.8 453.2 L1146.3 452.8 L1146.8 452.4 L1147.4 451.9 L1147.9 451.4 L1148.5 451.0 L1149.2 450.5 L1149.8 449.9 L1150.5 449.4 L1151.2 448.8 L1151.9 448.2 L1152.7 447.6 L1153.5 447.0 L1154.3 446.3 L1155.1 445.6 L1156.0 444.9 L1156.9 444.1 L1157.9 443.3 L1158.9 442.5 L1159.9 441.6 L1161.0 440.8 L1162.1 439.8 L1163.2 438.9 L1164.4 437.9 L1165.7 436.8 L1167.0 435.7 L1168.3 434.6 L1169.8 433.4 L1171.2 432.2 L1172.7 430.9 L1174.3 429.6 L1175.9 428.2 L1177.6 426.7 L1179.4 425.2 L1181.3 423.7 L1183.2 422.0 L1185.2 420.3 L1187.2 418.5 L1189.4 416.7 L1191.6 414.7 L1193.9 412.7 L1196.3 410.6 L1198.8 408.4 L1201.4 406.1 L1204.1 403.7 L1206.9 401.2 L1209.9 398.6 L1212.9 395.9 L1216.1 393.1 L1219.3 390.1 L1222.8 387.1 L1226.3 383.8 L1230.0 380.5 L1233.8 377.0 L1237.8 373.3 L1241.9 369.5 L1246.2 365.5 L1250.7 361.4 L1255.4 357.0 L1260.2 352.5 L1265.2 347.7 L1270.4 342.7 L1275.8 337.5 L1281.5 332.1 L1287.3 326.4 L1293.4 320.4 L1299.8 314.1 L1306.3 307.6 L1313.2 300.8 L1320.3 293.6 L1327.7 286.3 L1335.3 278.6 L1343.3 270.7 L1351.6 262.5 L1360.2 254.1 L1369.2 245.4 L1378.5 236.4 L1388.2 227.1 L1398.2 217.6 L1408.7 207.9 L1419.5 197.8 L1430.8 187.6 L1442.6 177.4 L1454.8 167.1 L1467.4 157.1 L1480.6 147.5 L1494.3 138.5 L1508.6 130.4 L1523.4 123.5 L1525.0 123.5 L1525.0 485.5 L1134.8 485.5 L1134.8 460.4Z" fill="#f99644"/>
<path d="M1136.6 463.1 L1136.8 463.0 L1137.0 462.9 L1137.1 462.8 L1137.3 462.7 L1137.5 462.5 L1137.7 462.4 L1137.9 462.3 L1138.1 462.2 L1138.3 462.0 L1138.5 461.9 L1138.7 461.8 L1139.0 461.6 L1139.2 461.5 L1139.5 461.3 L1139.7 461.1 L1140.0 460.9 L1140.3 460.8 L1140.6 460.6 L1140.9 460.4 L1141.2 460.2 L1141.6 459.9 L1141.9 459.7 L1142.3 459.5 L1142.7 459.2 L1143.1 459.0 L1143.5 458.7 L1143.9 458.5 L1144.3 458.2 L1144.8 457.9 L1145.3 457.6 L1145.8 457.2 L1146.3 456.9 L1146.8 456.6 L1147.4 456.2 L1147.9 455.8 L1148.5 455.4 L1149.2 455.0 L1149.8 454.6 L1150.5 454.1 L1151.2 453.6 L1151.9 453.1 L1152.7 452.6 L1153.5 452.1 L1154.3 451.5 L1155.1 451.0 L1156.0 450.4 L1156.9 449.7 L1157.9 449.1 L1158.9 448.4 L1159.9 447.7 L1161.0 446.9 L1162.1 446.2 L1163.2 445.3 L1164.4 444.5 L1165.7 443.6 L1167.0 442.7 L1168.3 441.7 L1169.8 440.7 L1171.2 439.7 L1172.7 438.6 L1174.3 437.4 L1175.9 436.2 L1177.6 435.0 L1179.4 433.7 L1181.3 432.3 L1183.2 430.9 L1185.2 429.4 L1187.2 427.9 L1189.4 426.3 L1191.6 424.6 L1193.9 422.8 L1196.3 420.9 L1198.8 419.0 L1201.4 417.0 L1204.1 414.8 L1206.9 412.6 L1209.9 410.3 L1212.9 407.8 L1216.1 405.3 L1219.3 402.6 L1222.8 399.8 L1226.3 396.9 L1230.0 393.9 L1233.8 390.7 L1237.8 387.3 L1241.9 383.8 L1246.2 380.1 L1250.7 376.3 L1255.4 372.3 L1260.2 368.0 L1265.2 363.6 L1270.4 358.9 L1275.8 354.0 L1281.5 348.9 L1287.3 343.4 L1293.4 337.7 L1299.8 331.7 L1306.3 325.3 L1313.2 318.7 L1320.3 311.7 L1327.7 304.5 L1335.3 297.0 L1343.3 289.3 L1351.6 281.3 L1360.2 273.1 L1369.2 264.6 L1378.5 255.9 L1388.2 247.0 L1398.2 237.8 L1408.7 228.5 L1419.5 218.9 L1430.8 209.2 L1442.6 199.5 L1454.8 189.8 L1467.4 180.4 L1480.6 171.5 L1494.3 163.2 L1508.6 155.8 L1523.4 149.4 L1525.0 149.4 L1525.0 485.5 L1134.8 485.5 L1134.8 463.1Z" fill="#f58b4f"/>
<path d="M1136.6 465.0 L1136.8 464.9 L1137.0 464.8 L1137.1 464.7 L1137.3 464.6 L1137.5 464.5 L1137.7 464.4 L1137.9 464.3 L1138.1 464.2 L1138.3 464.1 L1138.5 464.0 L1138.7 463.9 L1139.0 463.7 L1139.2 463.6 L1139.5 463.5 L1139.7 463.3 L1140.0 463.2 L1140.3 463.0 L1140.6 462.9 L1140.9 462.7 L1141.2 462.5 L1141.6 462.3 L1141.9 462.2 L1142.3 462.0 L1142.7 461.7 L1143.1 461.5 L1143.5 461.3 L1143.9 461.1 L1144.3 460.8 L1144.8 460.6 L1145.3 460.3 L1145.8 460.0 L1146.3 459.8 L1146.8 459.5 L1147.4 459.1 L1147.9 458.8 L1148.5 458.5 L1149.2 458.1 L1149.8 457.8 L1150.5 457.4 L1151.2 457.0 L1151.9 456.5 L1152.7 456.1 L1153.5 455.6 L1154.3 455.2 L1155.1 454.7 L1156.0 454.1 L1156.9 453.6 L1157.9 453.0 L1158.9 452.4 L1159.9 451.8 L1161.0 451.2 L1162.1 450.5 L1163.2 449.8 L1164.4 449.1 L1165.7 448.3 L1167.0 447.5 L1168.3 446.6 L1169.8 445.7 L1171.2 444.8 L1172.7 443.9 L1174.3 442.9 L1175.9 441.8 L1177.6 440.7 L1179.4 439.5 L1181.3 438.3 L1183.2 437.1 L1185.2 435.8 L1187.2 434.4 L1189.4 432.9 L1191.6 431.4 L1193.9 429.8 L1196.3 428.2 L1198.8 426.4 L1201.4 424.6 L1204.1 422.7 L1206.9 420.7 L1209.9 418.6 L1212.9 416.4 L1216.1 414.0 L1219.3 411.6 L1222.8 409.1 L1226.3 406.4 L1230.0 403.6 L1233.8 400.7 L1237.8 397.6 L1241.9 394.4 L1246.2 391.0 L1250.7 387.5 L1255.4 383.8 L1260.2 379.8 L1265.2 375.7 L1270.4 371.4 L1275.8 366.8 L1281.5 362.0 L1287.3 356.9 L1293.4 351.5 L1299.8 345.8 L1306.3 339.8 L1313.2 333.5 L1320.3 326.9 L1327.7 320.0 L1335.3 312.8 L1343.3 305.4 L1351.6 297.7 L1360.2 289.7 L1369.2 281.5 L1378.5 273.1 L1388.2 264.4 L1398.2 255.5 L1408.7 246.4 L1419.5 237.0 L1430.8 227.5 L1442.6 218.0 L1454.8 208.5 L1467.4 199.3 L1480.6 190.5 L1494.3 182.3 L1508.6 175.0 L1523.4 168.7 L1525.0 168.7 L1525.0 485.5 L1134.8 485.5 L1134.8 465.0Z" fill="#ee815a"/>
<path d="M1136.6 466.6 L1136.8 466.6 L1137.0 466.5 L1137.1 466.4 L1137.3 466.3 L1137.5 466.2 L1137.7 466.2 L1137.9 466.1 L1138.1 466.0 L1138.3 465.9 L1138.5 465.8 L1138.7 465.7 L1139.0 465.6 L1139.2 465.5 L1139.5 465.4 L1139.7 465.2 L1140.0 465.1 L1140.3 465.0 L1140.6 464.9 L1140.9 464.7 L1141.2 464.6 L1141.6 464.4 L1141.9 464.3 L1142.3 464.1 L1142.7 463.9 L1143.1 463.7 L1143.5 463.6 L1143.9 463.4 L1144.3 463.2 L1144.8 462.9 L1145.3 462.7 L1145.8 462.5 L1146.3 462.2 L1146.8 462.0 L1147.4 461.7 L1147.9 461.4 L1148.5 461.2 L1149.2 460.9 L1149.8 460.5 L1150.5 460.2 L1151.2 459.9 L1151.9 459.5 L1152.7 459.1 L1153.5 458.7 L1154.3 458.3 L1155.1 457.9 L1156.0 457.5 L1156.9 457.0 L1157.9 456.5 L1158.9 456.0 L1159.9 455.5 L1161.0 454.9 L1162.1 454.3 L1163.2 453.7 L1164.4 453.1 L1165.7 452.4 L1167.0 451.7 L1168.3 451.0 L1169.8 450.2 L1171.2 449.4 L1172.7 448.6 L1174.3 447.7 L1175.9 446.8 L1177.6 445.8 L1179.4 444.8 L1181.3 443.7 L1183.2 442.6 L1185.2 441.5 L1187.2 440.2 L1189.4 439.0 L1191.6 437.6 L1193.9 436.2 L1196.3 434.7 L1198.8 433.2 L1201.4 431.6 L1204.1 429.9 L1206.9 428.1 L1209.9 426.2 L1212.9 424.2 L1216.1 422.2 L1219.3 420.0 L1222.8 417.7 L1226.3 415.3 L1230.0 412.8 L1233.8 410.2 L1237.8 407.4 L1241.9 404.5 L1246.2 401.4 L1250.7 398.2 L1255.4 394.9 L1260.2 391.3 L1265.2 387.6 L1270.4 383.7 L1275.8 379.5 L1281.5 375.1 L1287.3 370.4 L1293.4 365.5 L1299.8 360.2 L1306.3 354.7 L1313.2 348.8 L1320.3 342.7 L1327.7 336.3 L1335.3 329.6 L1343.3 322.6 L1351.6 315.5 L1360.2 308.0 L1369.2 300.4 L1378.5 292.5 L1388.2 284.4 L1398.2 276.1 L1408.7 267.5 L1419.5 258.8 L1430.8 249.9 L1442.6 241.0 L1454.8 232.1 L1467.4 223.5 L1480.6 215.2 L1494.3 207.5 L1508.6 200.6 L1523.4 194.7 L1525.0 194.7 L1525.0 485.5 L1134.8 485.5 L1134.8 466.6Z" fill="#e67763"/>
<path d="M1136.6 468.1 L1136.8 468.0 L1137.0 467.9 L1137.1 467.9 L1137.3 467.8 L1137.5 467.7 L1137.7 467.7 L1137.9 467.6 L1138.1 467.5 L1138.3 467.4 L1138.5 467.3 L1138.7 467.2 L1139.0 467.2 L1139.2 467.1 L1139.5 467.0 L1139.7 466.9 L1140.0 466.7 L1140.3 466.6 L1140.6 466.5 L1140.9 466.4 L1141.2 466.3 L1141.6 466.1 L1141.9 466.0 L1142.3 465.8 L1142.7 465.7 L1143.1 465.5 L1143.5 465.4 L1143.9 465.2 L1144.3 465.0 L1144.8 464.8 L1145.3 464.6 L1145.8 464.4 L1146.3 464.2 L1146.8 464.0 L1147.4 463.7 L1147.9 463.5 L1148.5 463.2 L1149.2 463.0 L1149.8 462.7 L1150.5 462.4 L1151.2 462.1 L1151.9 461.8 L1152.7 461.4 L1153.5 461.1 L1154.3 460.7 L1155.1 460.3 L1156.0 459.9 L1156.9 459.5 L1157.9 459.1 L1158.9 458.6 L1159.9 458.2 L1161.0 457.7 L1162.1 457.1 L1163.2 456.6 L1164.4 456.0 L1165.7 455.4 L1167.0 454.8 L1168.3 454.1 L1169.8 453.4 L1171.2 452.7 L1172.7 451.9 L1174.3 451.2 L1175.9 450.3 L1177.6 449.4 L1179.4 448.5 L1181.3 447.6 L1183.2 446.6 L1185.2 445.5 L1187.2 444.4 L1189.4 443.2 L1191.6 442.0 L1193.9 440.7 L1196.3 439.4 L1198.8 438.0 L1201.4 436.5 L1204.1 434.9 L1206.9 433.3 L1209.9 431.6 L1212.9 429.8 L1216.1 427.9 L1219.3 425.9 L1222.8 423.8 L1226.3 421.6 L1230.0 419.2 L1233.8 416.8 L1237.8 414.2 L1241.9 411.6 L1246.2 408.7 L1250.7 405.8 L1255.4 402.7 L1260.2 399.4 L1265.2 395.9 L1270.4 392.3 L1275.8 388.4 L1281.5 384.3 L1287.3 379.9 L1293.4 375.3 L1299.8 370.4 L1306.3 365.2 L1313.2 359.7 L1320.3 354.0 L1327.7 347.9 L1335.3 341.7 L1343.3 335.2 L1351.6 328.5 L1360.2 321.6 L1369.2 314.5 L1378.5 307.2 L1388.2 299.7 L1398.2 292.0 L1408.7 284.1 L1419.5 276.0 L1430.8 267.9 L1442.6 259.7 L1454.8 251.6 L1467.4 243.7 L1480.6 236.2 L1494.3 229.2 L1508.6 223.0 L1523.4 217.6 L1525.0 217.6 L1525.0 485.5 L1134.8 485.5 L1134.8 468.1Z" fill="#db706b"/>
<path d="M1136.6 469.3 L1136.8 469.3 L1137.0 469.2 L1137.1 469.1 L1137.3 469.1 L1137.5 469.0 L1137.7 469.0 L1137.9 468.9 L1138.1 468.8 L1138.3 468.8 L1138.5 468.7 L1138.7 468.6 L1139.0 468.5 L1139.2 468.4 L1139.5 468.3 L1139.7 468.2 L1140.0 468.2 L1140.3 468.1 L1140.6 467.9 L1140.9 467.8 L1141.2 467.7 L1141.6 467.6 L1141.9 467.5 L1142.3 467.4 L1142.7 467.2 L1143.1 467.1 L1143.5 466.9 L1143.9 466.8 L1144.3 466.6 L1144.8 466.4 L1145.3 466.3 L1145.8 466.1 L1146.3 465.9 L1146.8 465.7 L1147.4 465.5 L1147.9 465.3 L1148.5 465.0 L1149.2 464.8 L1149.8 464.6 L1150.5 464.3 L1151.2 464.0 L1151.9 463.7 L1152.7 463.4 L1153.5 463.1 L1154.3 462.8 L1155.1 462.4 L1156.0 462.1 L1156.9 461.7 L1157.9 461.3 L1158.9 460.9 L1159.9 460.5 L1161.0 460.0 L1162.1 459.6 L1163.2 459.1 L1164.4 458.5 L1165.7 458.0 L1167.0 457.4 L1168.3 456.8 L1169.8 456.2 L1171.2 455.5 L1172.7 454.8 L1174.3 454.1 L1175.9 453.3 L1177.6 452.5 L1179.4 451.7 L1181.3 450.8 L1183.2 449.9 L1185.2 448.9 L1187.2 447.9 L1189.4 446.8 L1191.6 445.7 L1193.9 444.5 L1196.3 443.3 L1198.8 442.0 L1201.4 440.6 L1204.1 439.2 L1206.9 437.6 L1209.9 436.0 L1212.9 434.4 L1216.1 432.6 L1219.3 430.7 L1222.8 428.8 L1226.3 426.7 L1230.0 424.5 L1233.8 422.3 L1237.8 419.9 L1241.9 417.4 L1246.2 414.7 L1250.7 411.9 L1255.4 409.0 L1260.2 405.9 L1265.2 402.7 L1270.4 399.2 L1275.8 395.6 L1281.5 391.7 L1287.3 387.6 L1293.4 383.2 L1299.8 378.6 L1306.3 373.6 L1313.2 368.4 L1320.3 362.9 L1327.7 357.2 L1335.3 351.2 L1343.3 345.0 L1351.6 338.6 L1360.2 332.1 L1369.2 325.3 L1378.5 318.4 L1388.2 311.2 L1398.2 303.9 L1408.7 296.5 L1419.5 288.8 L1430.8 281.1 L1442.6 273.4 L1454.8 265.8 L1467.4 258.3 L1480.6 251.2 L1494.3 244.7 L1508.6 238.8 L1523.4 233.7 L1525.0 233.7 L1525.0 485.5 L1134.8 485.5 L1134.8 469.3Z" fill="#d06b72"/>
<path d="M1136.6 470.4 L1136.8 470.4 L1137.0 470.3 L1137.1 470.3 L1137.3 470.2 L1137.5 470.2 L1137.7 470.1 L1137.9 470.1 L1138.1 470.0 L1138.3 469.9 L1138.5 469.9 L1138.7 469.8 L1139.0 469.7 L1139.2 469.6 L1139.5 469.6 L1139.7 469.5 L1140.0 469.4 L1140.3 469.3 L1140.6 469.2 L1140.9 469.1 L1141.2 469.0 L1141.6 468.9 L1141.9 468.8 L1142.3 468.7 L1142.7 468.6 L1143.1 468.5 L1143.5 468.3 L1143.9 468.2 L1144.3 468.1 L1144.8 467.9 L1145.3 467.7 L1145.8 467.6 L1146.3 467.4 L1146.8 467.2 L1147.4 467.1 L1147.9 466.9 L1148.5 466.7 L1149.2 466.4 L1149.8 466.2 L1150.5 466.0 L1151.2 465.7 L1151.9 465.5 L1152.7 465.2 L1153.5 464.9 L1154.3 464.7 L1155.1 464.3 L1156.0 464.0 L1156.9 463.7 L1157.9 463.3 L1158.9 463.0 L1159.9 462.6 L1161.0 462.2 L1162.1 461.7 L1163.2 461.3 L1164.4 460.8 L1165.7 460.3 L1167.0 459.8 L1168.3 459.3 L1169.8 458.7 L1171.2 458.1 L1172.7 457.5 L1174.3 456.8 L1175.9 456.1 L1177.6 455.4 L1179.4 454.6 L1181.3 453.8 L1183.2 453.0 L1185.2 452.1 L1187.2 451.2 L1189.4 450.2 L1191.6 449.2 L1193.9 448.1 L1196.3 447.0 L1198.8 445.8 L1201.4 444.5 L1204.1 443.2 L1206.9 441.8 L1209.9 440.3 L1212.9 438.7 L1216.1 437.1 L1219.3 435.4 L1222.8 433.6 L1226.3 431.7 L1230.0 429.7 L1233.8 427.6 L1237.8 425.3 L1241.9 423.0 L1246.2 420.6 L1250.7 418.0 L1255.4 415.3 L1260.2 412.4 L1265.2 409.4 L1270.4 406.1 L1275.8 402.7 L1281.5 399.1 L1287.3 395.3 L1293.4 391.2 L1299.8 386.8 L1306.3 382.2 L1313.2 377.2 L1320.3 372.0 L1327.7 366.6 L1335.3 360.9 L1343.3 355.0 L1351.6 348.9 L1360.2 342.6 L1369.2 336.1 L1378.5 329.4 L1388.2 322.5 L1398.2 315.4 L1408.7 308.1 L1419.5 300.7 L1430.8 293.1 L1442.6 285.5 L1454.8 277.9 L1467.4 270.6 L1480.6 263.5 L1494.3 257.0 L1508.6 251.1 L1523.4 246.0 L1525.0 246.0 L1525.0 485.5 L1134.8 485.5 L1134.8 470.4Z" fill="#c56778"/>
<path d="M1136.6 471.4 L1136.8 471.4 L1137.0 471.3 L1137.1 471.3 L1137.3 471.2 L1137.5 471.2 L1137.7 471.2 L1137.9 471.1 L1138.1 471.1 L1138.3 471.0 L1138.5 470.9 L1138.7 470.9 L1139.0 470.8 L1139.2 470.8 L1139.5 470.7 L1139.7 470.6 L1140.0 470.6 L1140.3 470.5 L1140.6 470.4 L1140.9 470.3 L1141.2 470.2 L1141.6 470.1 L1141.9 470.1 L1142.3 470.0 L1142.7 469.9 L1143.1 469.7 L1143.5 469.6 L1143.9 469.5 L1144.3 469.4 L1144.8 469.3 L1145.3 469.1 L1145.8 469.0 L1146.3 468.9 L1146.8 468.7 L1147.4 468.5 L1147.9 468.4 L1148.5 468.2 L1149.2 468.0 L1149.8 467.8 L1150.5 467.6 L1151.2 467.4 L1151.9 467.2 L1152.7 467.0 L1153.5 466.7 L1154.3 466.5 L1155.1 466.2 L1156.0 465.9 L1156.9 465.6 L1157.9 465.3 L1158.9 465.0 L1159.9 464.6 L1161.0 464.3 L1162.1 463.9 L1163.2 463.5 L1164.4 463.1 L1165.7 462.6 L1167.0 462.2 L1168.3 461.7 L1169.8 461.2 L1171.2 460.6 L1172.7 460.1 L1174.3 459.5 L1175.9 458.9 L1177.6 458.2 L1179.4 457.5 L1181.3 456.8 L1183.2 456.0 L1185.2 455.2 L1187.2 454.4 L1189.4 453.5 L1191.6 452.5 L1193.9 451.5 L1196.3 450.5 L1198.8 449.4 L1201.4 448.2 L1204.1 447.0 L1206.9 445.7 L1209.9 444.3 L1212.9 442.9 L1216.1 441.4 L1219.3 439.8 L1222.8 438.1 L1226.3 436.4 L1230.0 434.5 L1233.8 432.5 L1237.8 430.5 L1241.9 428.3 L1246.2 426.0 L1250.7 423.6 L1255.4 421.0 L1260.2 418.3 L1265.2 415.5 L1270.4 412.5 L1275.8 409.3 L1281.5 405.8 L1287.3 402.2 L1293.4 398.3 L1299.8 394.1 L1306.3 389.7 L1313.2 385.0 L1320.3 380.0 L1327.7 374.8 L1335.3 369.3 L1343.3 363.6 L1351.6 357.7 L1360.2 351.6 L1369.2 345.4 L1378.5 338.9 L1388.2 332.2 L1398.2 325.3 L1408.7 318.3 L1419.5 311.1 L1430.8 303.7 L1442.6 296.4 L1454.8 289.0 L1467.4 281.9 L1480.6 275.0 L1494.3 268.6 L1508.6 262.9 L1523.4 258.0 L1525.0 258.0 L1525.0 485.5 L1134.8 485.5 L1134.8 471.4Z" fill="#b9627f"/>
<path d="M1136.6 472.3 L1136.8 472.3 L1137.0 472.3 L1137.1 472.2 L1137.3 472.2 L1137.5 472.1 L1137.7 472.1 L1137.9 472.1 L1138.1 472.0 L1138.3 472.0 L1138.5 471.9 L1138.7 471.9 L1139.0 471.8 L1139.2 471.8 L1139.5 471.7 L1139.7 471.7 L1140.0 471.6 L1140.3 471.5 L1140.6 471.5 L1140.9 471.4 L1141.2 471.3 L1141.6 471.2 L1141.9 471.2 L1142.3 471.1 L1142.7 471.0 L1143.1 470.9 L1143.5 470.8 L1143.9 470.7 L1144.3 470.6 L1144.8 470.5 L1145.3 470.4 L1145.8 470.2 L1146.3 470.1 L1146.8 470.0 L1147.4 469.8 L1147.9 469.7 L1148.5 469.5 L1149.2 469.4 L1149.8 469.2 L1150.5 469.0 L1151.2 468.8 L1151.9 468.6 L1152.7 468.4 L1153.5 468.2 L1154.3 468.0 L1155.1 467.7 L1156.0 467.5 L1156.9 467.2 L1157.9 466.9 L1158.9 466.6 L1159.9 466.3 L1161.0 466.0 L1162.1 465.7 L1163.2 465.3 L1164.4 464.9 L1165.7 464.5 L1167.0 464.1 L1168.3 463.7 L1169.8 463.2 L1171.2 462.7 L1172.7 462.2 L1174.3 461.7 L1175.9 461.1 L1177.6 460.5 L1179.4 459.9 L1181.3 459.2 L1183.2 458.5 L1185.2 457.8 L1187.2 457.0 L1189.4 456.2 L1191.6 455.3 L1193.9 454.4 L1196.3 453.4 L1198.8 452.4 L1201.4 451.3 L1204.1 450.2 L1206.9 449.0 L1209.9 447.7 L1212.9 446.4 L1216.1 444.9 L1219.3 443.5 L1222.8 441.9 L1226.3 440.2 L1230.0 438.5 L1233.8 436.6 L1237.8 434.7 L1241.9 432.7 L1246.2 430.5 L1250.7 428.2 L1255.4 425.8 L1260.2 423.3 L1265.2 420.6 L1270.4 417.8 L1275.8 414.7 L1281.5 411.5 L1287.3 408.1 L1293.4 404.4 L1299.8 400.4 L1306.3 396.2 L1313.2 391.7 L1320.3 386.9 L1327.7 381.9 L1335.3 376.6 L1343.3 371.1 L1351.6 365.4 L1360.2 359.5 L1369.2 353.4 L1378.5 347.1 L1388.2 340.6 L1398.2 333.9 L1408.7 327.0 L1419.5 319.9 L1430.8 312.7 L1442.6 305.5 L1454.8 298.3 L1467.4 291.2 L1480.6 284.4 L1494.3 278.1 L1508.6 272.5 L1523.4 267.5 L1525.0 267.5 L1525.0 485.5 L1134.8 485.5 L1134.8 472.3Z" fill="#ae5f83"/>
<path d="M1136.6 473.2 L1136.8 473.2 L1137.0 473.1 L1137.1 473.1 L1137.3 473.1 L1137.5 473.0 L1137.7 473.0 L1137.9 473.0 L1138.1 472.9 L1138.3 472.9 L1138.5 472.8 L1138.7 472.8 L1139.0 472.7 L1139.2 472.7 L1139.5 472.6 L1139.7 472.6 L1140.0 472.5 L1140.3 472.4 L1140.6 472.4 L1140.9 472.3 L1141.2 472.2 L1141.6 472.2 L1141.9 472.1 L1142.3 472.0 L1142.7 471.9 L1143.1 471.8 L1143.5 471.7 L1143.9 471.7 L1144.3 471.6 L1144.8 471.4 L1145.3 471.3 L1145.8 471.2 L1146.3 471.1 L1146.8 471.0 L1147.4 470.8 L1147.9 470.7 L1148.5 470.6 L1149.2 470.4 L1149.8 470.2 L1150.5 470.1 L1151.2 469.9 L1151.9 469.7 L1152.7 469.5 L1153.5 469.3 L1154.3 469.1 L1155.1 468.9 L1156.0 468.6 L1156.9 468.4 L1157.9 468.1 L1158.9 467.8 L1159.9 467.5 L1161.0 467.2 L1162.1 466.9 L1163.2 466.6 L1164.4 466.2 L1165.7 465.9 L1167.0 465.5 L1168.3 465.0 L1169.8 464.6 L1171.2 464.1 L1172.7 463.7 L1174.3 463.2 L1175.9 462.6 L1177.6 462.1 L1179.4 461.5 L1181.3 460.8 L1183.2 460.2 L1185.2 459.5 L1187.2 458.7 L1189.4 458.0 L1191.6 457.2 L1193.9 456.3 L1196.3 455.4 L1198.8 454.4 L1201.4 453.4 L1204.1 452.3 L1206.9 451.2 L1209.9 450.0 L1212.9 448.8 L1216.1 447.4 L1219.3 446.0 L1222.8 444.6 L1226.3 443.0 L1230.0 441.4 L1233.8 439.6 L1237.8 437.8 L1241.9 435.9 L1246.2 433.9 L1250.7 431.8 L1255.4 429.5 L1260.2 427.1 L1265.2 424.6 L1270.4 421.9 L1275.8 419.1 L1281.5 416.1 L1287.3 412.8 L1293.4 409.4 L1299.8 405.7 L1306.3 401.7 L1313.2 397.5 L1320.3 393.0 L1327.7 388.3 L1335.3 383.3 L1343.3 378.1 L1351.6 372.7 L1360.2 367.0 L1369.2 361.2 L1378.5 355.2 L1388.2 348.9 L1398.2 342.5 L1408.7 335.8 L1419.5 329.0 L1430.8 322.0 L1442.6 314.9 L1454.8 307.9 L1467.4 300.9 L1480.6 294.2 L1494.3 288.0 L1508.6 282.4 L1523.4 277.5 L1525.0 277.5 L1525.0 485.5 L1134.8 485.5 L1134.8 473.2Z" fill="#a15a87"/>
<path d="M1136.6 474.1 L1136.8 474.0 L1137.0 474.0 L1137.1 474.0 L1137.3 473.9 L1137.5 473.9 L1137.7 473.8 L1137.9 473.8 L1138.1 473.8 L1138.3 473.7 L1138.5 473.7 L1138.7 473.6 L1139.0 473.6 L1139.2 473.5 L1139.5 473.4 L1139.7 473.4 L1140.0 473.3 L1140.3 473.3 L1140.6 473.2 L1140.9 473.1 L1141.2 473.1 L1141.6 473.0 L1141.9 472.9 L1142.3 472.8 L1142.7 472.7 L1143.1 472.6 L1143.5 472.5 L1143.9 472.4 L1144.3 472.3 L1144.8 472.2 L1145.3 472.1 L1145.8 472.0 L1146.3 471.9 L1146.8 471.8 L1147.4 471.6 L1147.9 471.5 L1148.5 471.3 L1149.2 471.2 L1149.8 471.0 L1150.5 470.8 L1151.2 470.7 L1151.9 470.5 L1152.7 470.3 L1153.5 470.1 L1154.3 469.9 L1155.1 469.6 L1156.0 469.4 L1156.9 469.2 L1157.9 468.9 L1158.9 468.6 L1159.9 468.3 L1161.0 468.0 L1162.1 467.7 L1163.2 467.4 L1164.4 467.0 L1165.7 466.7 L1167.0 466.3 L1168.3 465.9 L1169.8 465.5 L1171.2 465.0 L1172.7 464.6 L1174.3 464.1 L1175.9 463.6 L1177.6 463.0 L1179.4 462.5 L1181.3 461.9 L1183.2 461.2 L1185.2 460.6 L1187.2 459.9 L1189.4 459.1 L1191.6 458.4 L1193.9 457.6 L1196.3 456.7 L1198.8 455.8 L1201.4 454.9 L1204.1 453.9 L1206.9 452.8 L1209.9 451.7 L1212.9 450.5 L1216.1 449.3 L1219.3 448.0 L1222.8 446.6 L1226.3 445.2 L1230.0 443.7 L1233.8 442.1 L1237.8 440.4 L1241.9 438.7 L1246.2 436.8 L1250.7 434.9 L1255.4 432.8 L1260.2 430.6 L1265.2 428.4 L1270.4 425.9 L1275.8 423.4 L1281.5 420.6 L1287.3 417.7 L1293.4 414.6 L1299.8 411.3 L1306.3 407.7 L1313.2 403.9 L1320.3 399.9 L1327.7 395.6 L1335.3 391.1 L1343.3 386.4 L1351.6 381.4 L1360.2 376.3 L1369.2 370.9 L1378.5 365.3 L1388.2 359.4 L1398.2 353.3 L1408.7 347.0 L1419.5 340.5 L1430.8 333.7 L1442.6 326.9 L1454.8 320.0 L1467.4 313.2 L1480.6 306.6 L1494.3 300.4 L1508.6 294.8 L1523.4 289.9 L1525.0 289.9 L1525.0 485.5 L1134.8 485.5 L1134.8 474.1Z" fill="#94558b"/>
<path d="M1136.6 474.9 L1136.8 474.9 L1137.0 474.9 L1137.1 474.8 L1137.3 474.8 L1137.5 474.8 L1137.7 474.7 L1137.9 474.7 L1138.1 474.6 L1138.3 474.6 L1138.5 474.6 L1138.7 474.5 L1139.0 474.5 L1139.2 474.4 L1139.5 474.3 L1139.7 474.3 L1140.0 474.2 L1140.3 474.2 L1140.6 474.1 L1140.9 474.0 L1141.2 474.0 L1141.6 473.9 L1141.9 473.8 L1142.3 473.7 L1142.7 473.7 L1143.1 473.6 L1143.5 473.5 L1143.9 473.4 L1144.3 473.3 L1144.8 473.2 L1145.3 473.1 L1145.8 473.0 L1146.3 472.8 L1146.8 472.7 L1147.4 472.5 L1147.9 472.3 L1148.5 472.1 L1149.2 471.9 L1149.8 471.7 L1150.5 471.5 L1151.2 471.3 L1151.9 471.1 L1152.7 470.9 L1153.5 470.6 L1154.3 470.4 L1155.1 470.1 L1156.0 469.9 L1156.9 469.6 L1157.9 469.3 L1158.9 469.0 L1159.9 468.7 L1161.0 468.4 L1162.1 468.0 L1163.2 467.7 L1164.4 467.3 L1165.7 466.9 L1167.0 466.5 L1168.3 466.1 L1169.8 465.7 L1171.2 465.2 L1172.7 464.8 L1174.3 464.3 L1175.9 463.8 L1177.6 463.3 L1179.4 462.7 L1181.3 462.2 L1183.2 461.6 L1185.2 461.0 L1187.2 460.3 L1189.4 459.7 L1191.6 459.0 L1193.9 458.2 L1196.3 457.5 L1198.8 456.7 L1201.4 455.9 L1204.1 455.1 L1206.9 454.2 L1209.9 453.3 L1212.9 452.3 L1216.1 451.3 L1219.3 450.3 L1222.8 449.2 L1226.3 447.8 L1230.0 446.4 L1233.8 445.0 L1237.8 443.4 L1241.9 441.8 L1246.2 440.1 L1250.7 438.3 L1255.4 436.4 L1260.2 434.4 L1265.2 432.3 L1270.4 430.1 L1275.8 427.7 L1281.5 425.2 L1287.3 422.5 L1293.4 419.6 L1299.8 416.6 L1306.3 413.3 L1313.2 409.9 L1320.3 406.3 L1327.7 402.4 L1335.3 398.4 L1343.3 394.2 L1351.6 389.9 L1360.2 385.4 L1369.2 380.7 L1378.5 375.8 L1388.2 370.8 L1398.2 365.6 L1408.7 360.3 L1419.5 354.8 L1430.8 349.2 L1442.6 343.6 L1454.8 337.9 L1467.4 332.4 L1480.6 327.0 L1494.3 322.1 L1508.6 317.6 L1523.4 313.7 L1525.0 313.7 L1525.0 485.5 L1134.8 485.5 L1134.8 474.9Z" fill="#87508e"/>
<path d="M1136.6 475.8 L1136.8 475.8 L1137.0 475.7 L1137.1 475.7 L1137.3 475.6 L1137.5 475.6 L1137.7 475.5 L1137.9 475.5 L1138.1 475.4 L1138.3 475.3 L1138.5 475.3 L1138.7 475.2 L1139.0 475.1 L1139.2 475.1 L1139.5 475.0 L1139.7 474.9 L1140.0 474.8 L1140.3 474.7 L1140.6 474.6 L1140.9 474.6 L1141.2 474.5 L1141.6 474.4 L1141.9 474.3 L1142.3 474.1 L1142.7 474.0 L1143.1 473.9 L1143.5 473.8 L1143.9 473.7 L1144.3 473.5 L1144.8 473.4 L1145.3 473.3 L1145.8 473.1 L1146.3 473.0 L1146.8 472.8 L1147.4 472.6 L1147.9 472.5 L1148.5 472.3 L1149.2 472.1 L1149.8 471.9 L1150.5 471.7 L1151.2 471.5 L1151.9 471.3 L1152.7 471.0 L1153.5 470.8 L1154.3 470.5 L1155.1 470.3 L1156.0 470.0 L1156.9 469.7 L1157.9 469.5 L1158.9 469.2 L1159.9 468.8 L1161.0 468.5 L1162.1 468.2 L1163.2 467.8 L1164.4 467.5 L1165.7 467.1 L1167.0 466.7 L1168.3 466.3 L1169.8 465.8 L1171.2 465.4 L1172.7 464.9 L1174.3 464.4 L1175.9 463.9 L1177.6 463.4 L1179.4 462.9 L1181.3 462.3 L1183.2 461.7 L1185.2 461.1 L1187.2 460.5 L1189.4 459.8 L1191.6 459.1 L1193.9 458.4 L1196.3 457.6 L1198.8 456.9 L1201.4 456.1 L1204.1 455.2 L1206.9 454.3 L1209.9 453.4 L1212.9 452.5 L1216.1 451.5 L1219.3 450.4 L1222.8 449.4 L1226.3 448.2 L1230.0 447.1 L1233.8 445.8 L1237.8 444.6 L1241.9 443.3 L1246.2 441.9 L1250.7 440.5 L1255.4 439.0 L1260.2 437.4 L1265.2 435.8 L1270.4 434.1 L1275.8 432.3 L1281.5 430.5 L1287.3 428.6 L1293.4 426.6 L1299.8 424.5 L1306.3 422.3 L1313.2 420.0 L1320.3 417.7 L1327.7 415.2 L1335.3 412.7 L1343.3 410.1 L1351.6 407.4 L1360.2 404.6 L1369.2 401.8 L1378.5 398.8 L1388.2 395.8 L1398.2 392.7 L1408.7 389.4 L1419.5 386.2 L1430.8 382.8 L1442.6 379.5 L1454.8 376.1 L1467.4 372.9 L1480.6 369.8 L1494.3 366.9 L1508.6 364.3 L1523.4 362.0 L1525.0 362.0 L1525.0 485.5 L1134.8 485.5 L1134.8 475.8Z" fill="#7b4b91"/>
<path d="M1136.6 476.6 L1136.8 476.6 L1137.0 476.5 L1137.1 476.5 L1137.3 476.4 L1137.5 476.4 L1137.7 476.3 L1137.9 476.3 L1138.1 476.2 L1138.3 476.2 L1138.5 476.1 L1138.7 476.0 L1139.0 476.0 L1139.2 475.9 L1139.5 475.8 L1139.7 475.7 L1140.0 475.7 L1140.3 475.6 L1140.6 475.5 L1140.9 475.4 L1141.2 475.3 L1141.6 475.2 L1141.9 475.1 L1142.3 475.0 L1142.7 474.9 L1143.1 474.8 L1143.5 474.6 L1143.9 474.5 L1144.3 474.4 L1144.8 474.3 L1145.3 474.1 L1145.8 474.0 L1146.3 473.8 L1146.8 473.7 L1147.4 473.5 L1147.9 473.3 L1148.5 473.2 L1149.2 473.0 L1149.8 472.8 L1150.5 472.6 L1151.2 472.4 L1151.9 472.2 L1152.7 472.0 L1153.5 471.7 L1154.3 471.5 L1155.1 471.2 L1156.0 471.0 L1156.9 470.7 L1157.9 470.4 L1158.9 470.1 L1159.9 469.8 L1161.0 469.5 L1162.1 469.2 L1163.2 468.9 L1164.4 468.5 L1165.7 468.2 L1167.0 467.8 L1168.3 467.4 L1169.8 467.0 L1171.2 466.6 L1172.7 466.1 L1174.3 465.7 L1175.9 465.2 L1177.6 464.7 L1179.4 464.2 L1181.3 463.7 L1183.2 463.2 L1185.2 462.6 L1187.2 462.0 L1189.4 461.4 L1191.6 460.8 L1193.9 460.1 L1196.3 459.4 L1198.8 458.7 L1201.4 458.0 L1204.1 457.2 L1206.9 456.5 L1209.9 455.6 L1212.9 454.8 L1216.1 453.9 L1219.3 453.0 L1222.8 452.0 L1226.3 451.1 L1230.0 450.0 L1233.8 449.0 L1237.8 447.9 L1241.9 446.8 L1246.2 445.6 L1250.7 444.4 L1255.4 443.1 L1260.2 441.8 L1265.2 440.4 L1270.4 439.0 L1275.8 437.6 L1281.5 436.0 L1287.3 434.5 L1293.4 432.9 L1299.8 431.2 L1306.3 429.4 L1313.2 427.6 L1320.3 425.7 L1327.7 423.7 L1335.3 421.6 L1343.3 419.4 L1351.6 417.1 L1360.2 414.6 L1369.2 412.1 L1378.5 409.3 L1388.2 406.5 L1398.2 403.5 L1408.7 400.3 L1419.5 397.0 L1430.8 393.6 L1442.6 390.1 L1454.8 386.5 L1467.4 383.0 L1480.6 379.5 L1494.3 376.3 L1508.6 373.3 L1523.4 370.7 L1525.0 370.7 L1525.0 485.5 L1134.8 485.5 L1134.8 476.6Z" fill="#6f4695"/>
<path d="M1136.6 477.4 L1136.8 477.4 L1137.0 477.3 L1137.1 477.3 L1137.3 477.2 L1137.5 477.2 L1137.7 477.1 L1137.9 477.1 L1138.1 477.0 L1138.3 476.9 L1138.5 476.9 L1138.7 476.8 L1139.0 476.7 L1139.2 476.7 L1139.5 476.6 L1139.7 476.5 L1140.0 476.4 L1140.3 476.4 L1140.6 476.3 L1140.9 476.2 L1141.2 476.1 L1141.6 476.0 L1141.9 475.9 L1142.3 475.8 L1142.7 475.7 L1143.1 475.6 L1143.5 475.4 L1143.9 475.3 L1144.3 475.2 L1144.8 475.1 L1145.3 474.9 L1145.8 474.8 L1146.3 474.6 L1146.8 474.5 L1147.4 474.3 L1147.9 474.1 L1148.5 474.0 L1149.2 473.8 L1149.8 473.6 L1150.5 473.4 L1151.2 473.2 L1151.9 473.0 L1152.7 472.8 L1153.5 472.6 L1154.3 472.3 L1155.1 472.1 L1156.0 471.8 L1156.9 471.6 L1157.9 471.3 L1158.9 471.0 L1159.9 470.8 L1161.0 470.4 L1162.1 470.1 L1163.2 469.8 L1164.4 469.5 L1165.7 469.1 L1167.0 468.8 L1168.3 468.4 L1169.8 468.0 L1171.2 467.6 L1172.7 467.2 L1174.3 466.8 L1175.9 466.3 L1177.6 465.9 L1179.4 465.4 L1181.3 464.9 L1183.2 464.4 L1185.2 463.9 L1187.2 463.3 L1189.4 462.8 L1191.6 462.2 L1193.9 461.6 L1196.3 460.9 L1198.8 460.3 L1201.4 459.6 L1204.1 458.9 L1206.9 458.2 L1209.9 457.5 L1212.9 456.7 L1216.1 455.9 L1219.3 455.1 L1222.8 454.2 L1226.3 453.4 L1230.0 452.5 L1233.8 451.5 L1237.8 450.6 L1241.9 449.6 L1246.2 448.6 L1250.7 447.5 L1255.4 446.4 L1260.2 445.3 L1265.2 444.2 L1270.4 443.0 L1275.8 441.8 L1281.5 440.6 L1287.3 439.3 L1293.4 438.0 L1299.8 436.6 L1306.3 435.2 L1313.2 433.8 L1320.3 432.2 L1327.7 430.6 L1335.3 428.9 L1343.3 427.0 L1351.6 425.0 L1360.2 422.9 L1369.2 420.6 L1378.5 418.1 L1388.2 415.5 L1398.2 412.6 L1408.7 409.6 L1419.5 406.4 L1430.8 403.0 L1442.6 399.4 L1454.8 395.7 L1467.4 392.1 L1480.6 388.4 L1494.3 384.9 L1508.6 381.7 L1523.4 378.9 L1525.0 378.9 L1525.0 485.5 L1134.8 485.5 L1134.8 477.4Z" fill="#62409a"/>
<path d="M1136.6 478.2 L1136.8 478.1 L1137.0 478.1 L1137.1 478.0 L1137.3 478.0 L1137.5 477.9 L1137.7 477.9 L1137.9 477.8 L1138.1 477.8 L1138.3 477.7 L1138.5 477.6 L1138.7 477.6 L1139.0 477.5 L1139.2 477.4 L1139.5 477.4 L1139.7 477.3 L1140.0 477.2 L1140.3 477.1 L1140.6 477.0 L1140.9 477.0 L1141.2 476.9 L1141.6 476.8 L1141.9 476.7 L1142.3 476.6 L1142.7 476.5 L1143.1 476.4 L1143.5 476.2 L1143.9 476.1 L1144.3 476.0 L1144.8 475.9 L1145.3 475.7 L1145.8 475.6 L1146.3 475.5 L1146.8 475.3 L1147.4 475.2 L1147.9 475.0 L1148.5 474.8 L1149.2 474.7 L1149.8 474.5 L1150.5 474.3 L1151.2 474.1 L1151.9 473.9 L1152.7 473.7 L1153.5 473.5 L1154.3 473.3 L1155.1 473.0 L1156.0 472.8 L1156.9 472.6 L1157.9 472.3 L1158.9 472.0 L1159.9 471.8 L1161.0 471.5 L1162.1 471.2 L1163.2 470.9 L1164.4 470.6 L1165.7 470.2 L1167.0 469.9 L1168.3 469.5 L1169.8 469.2 L1171.2 468.8 L1172.7 468.4 L1174.3 468.0 L1175.9 467.6 L1177.6 467.2 L1179.4 466.7 L1181.3 466.2 L1183.2 465.8 L1185.2 465.3 L1187.2 464.8 L1189.4 464.2 L1191.6 463.7 L1193.9 463.1 L1196.3 462.6 L1198.8 462.0 L1201.4 461.3 L1204.1 460.7 L1206.9 460.0 L1209.9 459.4 L1212.9 458.7 L1216.1 457.9 L1219.3 457.2 L1222.8 456.4 L1226.3 455.6 L1230.0 454.8 L1233.8 454.0 L1237.8 453.1 L1241.9 452.3 L1246.2 451.4 L1250.7 450.4 L1255.4 449.5 L1260.2 448.5 L1265.2 447.5 L1270.4 446.5 L1275.8 445.5 L1281.5 444.4 L1287.3 443.3 L1293.4 442.2 L1299.8 441.1 L1306.3 439.9 L1313.2 438.7 L1320.3 437.4 L1327.7 436.0 L1335.3 434.5 L1343.3 432.9 L1351.6 431.1 L1360.2 429.1 L1369.2 427.0 L1378.5 424.7 L1388.2 422.2 L1398.2 419.4 L1408.7 416.4 L1419.5 413.2 L1430.8 409.7 L1442.6 406.1 L1454.8 402.3 L1467.4 398.4 L1480.6 394.6 L1494.3 390.9 L1508.6 387.5 L1523.4 384.4 L1525.0 384.4 L1525.0 485.5 L1134.8 485.5 L1134.8 478.2Z" fill="#53399e"/>
<path d="M1136.6 478.9 L1136.8 478.8 L1137.0 478.8 L1137.1 478.7 L1137.3 478.7 L1137.5 478.6 L1137.7 478.6 L1137.9 478.5 L1138.1 478.5 L1138.3 478.4 L1138.5 478.3 L1138.7 478.3 L1139.0 478.2 L1139.2 478.1 L1139.5 478.1 L1139.7 478.0 L1140.0 477.9 L1140.3 477.8 L1140.6 477.8 L1140.9 477.7 L1141.2 477.6 L1141.6 477.5 L1141.9 477.4 L1142.3 477.3 L1142.7 477.2 L1143.1 477.1 L1143.5 477.0 L1143.9 476.8 L1144.3 476.7 L1144.8 476.6 L1145.3 476.5 L1145.8 476.3 L1146.3 476.2 L1146.8 476.0 L1147.4 475.9 L1147.9 475.7 L1148.5 475.6 L1149.2 475.4 L1149.8 475.2 L1150.5 475.0 L1151.2 474.9 L1151.9 474.7 L1152.7 474.5 L1153.5 474.2 L1154.3 474.0 L1155.1 473.8 L1156.0 473.6 L1156.9 473.3 L1157.9 473.1 L1158.9 472.8 L1159.9 472.5 L1161.0 472.3 L1162.1 472.0 L1163.2 471.7 L1164.4 471.4 L1165.7 471.1 L1167.0 470.7 L1168.3 470.4 L1169.8 470.0 L1171.2 469.7 L1172.7 469.3 L1174.3 468.9 L1175.9 468.5 L1177.6 468.1 L1179.4 467.7 L1181.3 467.2 L1183.2 466.8 L1185.2 466.3 L1187.2 465.8 L1189.4 465.3 L1191.6 464.8 L1193.9 464.3 L1196.3 463.7 L1198.8 463.2 L1201.4 462.6 L1204.1 462.0 L1206.9 461.4 L1209.9 460.8 L1212.9 460.1 L1216.1 459.4 L1219.3 458.8 L1222.8 458.1 L1226.3 457.4 L1230.0 456.7 L1233.8 455.9 L1237.8 455.2 L1241.9 454.4 L1246.2 453.6 L1250.7 452.8 L1255.4 452.0 L1260.2 451.2 L1265.2 450.4 L1270.4 449.5 L1275.8 448.7 L1281.5 447.8 L1287.3 447.0 L1293.4 446.1 L1299.8 445.3 L1306.3 444.4 L1313.2 443.4 L1320.3 442.4 L1327.7 441.3 L1335.3 440.1 L1343.3 438.8 L1351.6 437.3 L1360.2 435.6 L1369.2 433.7 L1378.5 431.6 L1388.2 429.3 L1398.2 426.7 L1408.7 423.9 L1419.5 420.7 L1430.8 417.3 L1442.6 413.7 L1454.8 409.9 L1467.4 405.9 L1480.6 401.9 L1494.3 398.1 L1508.6 394.5 L1523.4 391.3 L1525.0 391.3 L1525.0 485.5 L1134.8 485.5 L1134.8 478.9Z" fill="#4235a0"/>
<path d="M1136.6 479.5 L1136.8 479.5 L1137.0 479.5 L1137.1 479.4 L1137.3 479.4 L1137.5 479.3 L1137.7 479.3 L1137.9 479.2 L1138.1 479.2 L1138.3 479.1 L1138.5 479.0 L1138.7 479.0 L1139.0 478.9 L1139.2 478.9 L1139.5 478.8 L1139.7 478.7 L1140.0 478.6 L1140.3 478.6 L1140.6 478.5 L1140.9 478.4 L1141.2 478.3 L1141.6 478.2 L1141.9 478.1 L1142.3 478.0 L1142.7 477.9 L1143.1 477.8 L1143.5 477.7 L1143.9 477.6 L1144.3 477.5 L1144.8 477.4 L1145.3 477.2 L1145.8 477.1 L1146.3 477.0 L1146.8 476.8 L1147.4 476.7 L1147.9 476.5 L1148.5 476.4 L1149.2 476.2 L1149.8 476.1 L1150.5 475.9 L1151.2 475.7 L1151.9 475.5 L1152.7 475.3 L1153.5 475.1 L1154.3 474.9 L1155.1 474.7 L1156.0 474.5 L1156.9 474.2 L1157.9 474.0 L1158.9 473.8 L1159.9 473.5 L1161.0 473.2 L1162.1 473.0 L1163.2 472.7 L1164.4 472.4 L1165.7 472.1 L1167.0 471.8 L1168.3 471.5 L1169.8 471.1 L1171.2 470.8 L1172.7 470.4 L1174.3 470.1 L1175.9 469.7 L1177.6 469.3 L1179.4 468.9 L1181.3 468.5 L1183.2 468.1 L1185.2 467.6 L1187.2 467.2 L1189.4 466.7 L1191.6 466.2 L1193.9 465.7 L1196.3 465.2 L1198.8 464.7 L1201.4 464.2 L1204.1 463.7 L1206.9 463.1 L1209.9 462.5 L1212.9 462.0 L1216.1 461.4 L1219.3 460.8 L1222.8 460.2 L1226.3 459.5 L1230.0 458.9 L1233.8 458.3 L1237.8 457.6 L1241.9 456.9 L1246.2 456.3 L1250.7 455.6 L1255.4 454.9 L1260.2 454.3 L1265.2 453.6 L1270.4 452.9 L1275.8 452.3 L1281.5 451.6 L1287.3 451.0 L1293.4 450.4 L1299.8 449.7 L1306.3 449.1 L1313.2 448.3 L1320.3 447.6 L1327.7 446.7 L1335.3 445.8 L1343.3 444.7 L1351.6 443.5 L1360.2 442.0 L1369.2 440.4 L1378.5 438.5 L1388.2 436.3 L1398.2 433.9 L1408.7 431.1 L1419.5 428.1 L1430.8 424.7 L1442.6 421.0 L1454.8 417.1 L1467.4 413.1 L1480.6 409.0 L1494.3 405.0 L1508.6 401.2 L1523.4 397.8 L1525.0 397.8 L1525.0 485.5 L1134.8 485.5 L1134.8 479.5Z" fill="#303399"/>
<path d="M1136.6 480.2 L1136.8 480.2 L1137.0 480.1 L1137.1 480.1 L1137.3 480.1 L1137.5 480.0 L1137.7 480.0 L1137.9 479.9 L1138.1 479.9 L1138.3 479.8 L1138.5 479.8 L1138.7 479.7 L1139.0 479.7 L1139.2 479.6 L1139.5 479.6 L1139.7 479.5 L1140.0 479.4 L1140.3 479.4 L1140.6 479.3 L1140.9 479.2 L1141.2 479.2 L1141.6 479.1 L1141.9 479.0 L1142.3 478.9 L1142.7 478.9 L1143.1 478.8 L1143.5 478.7 L1143.9 478.6 L1144.3 478.5 L1144.8 478.4 L1145.3 478.3 L1145.8 478.2 L1146.3 478.0 L1146.8 477.9 L1147.4 477.8 L1147.9 477.7 L1148.5 477.5 L1149.2 477.4 L1149.8 477.3 L1150.5 477.1 L1151.2 477.0 L1151.9 476.8 L1152.7 476.6 L1153.5 476.5 L1154.3 476.3 L1155.1 476.1 L1156.0 475.9 L1156.9 475.7 L1157.9 475.5 L1158.9 475.3 L1159.9 475.1 L1161.0 474.9 L1162.1 474.7 L1163.2 474.4 L1164.4 474.2 L1165.7 473.9 L1167.0 473.6 L1168.3 473.4 L1169.8 473.1 L1171.2 472.8 L1172.7 472.5 L1174.3 472.2 L1175.9 471.9 L1177.6 471.5 L1179.4 471.2 L1181.3 470.8 L1183.2 470.5 L1185.2 470.1 L1187.2 469.7 L1189.4 469.3 L1191.6 468.9 L1193.9 468.5 L1196.3 468.1 L1198.8 467.6 L1201.4 467.2 L1204.1 466.7 L1206.9 466.3 L1209.9 465.8 L1212.9 465.3 L1216.1 464.8 L1219.3 464.3 L1222.8 463.7 L1226.3 463.2 L1230.0 462.7 L1233.8 462.1 L1237.8 461.5 L1241.9 461.0 L1246.2 460.4 L1250.7 459.8 L1255.4 459.2 L1260.2 458.6 L1265.2 458.1 L1270.4 457.5 L1275.8 456.9 L1281.5 456.3 L1287.3 455.8 L1293.4 455.2 L1299.8 454.6 L1306.3 454.0 L1313.2 453.4 L1320.3 452.7 L1327.7 451.9 L1335.3 451.0 L1343.3 450.0 L1351.6 448.8 L1360.2 447.4 L1369.2 445.9 L1378.5 444.0 L1388.2 442.0 L1398.2 439.6 L1408.7 436.9 L1419.5 433.9 L1430.8 430.6 L1442.6 427.1 L1454.8 423.2 L1467.4 419.2 L1480.6 415.2 L1494.3 411.2 L1508.6 407.5 L1523.4 404.1 L1525.0 404.1 L1525.0 485.5 L1134.8 485.5 L1134.8 480.2Z" fill="#1c3484"/>
<path d="M1136.6 480.9 L1136.8 480.9 L1137.0 480.8 L1137.1 480.8 L1137.3 480.8 L1137.5 480.7 L1137.7 480.7 L1137.9 480.7 L1138.1 480.6 L1138.3 480.6 L1138.5 480.5 L1138.7 480.5 L1139.0 480.5 L1139.2 480.4 L1139.5 480.4 L1139.7 480.3 L1140.0 480.3 L1140.3 480.2 L1140.6 480.2 L1140.9 480.1 L1141.2 480.1 L1141.6 480.0 L1141.9 479.9 L1142.3 479.9 L1142.7 479.8 L1143.1 479.7 L1143.5 479.7 L1143.9 479.6 L1144.3 479.5 L1144.8 479.4 L1145.3 479.3 L1145.8 479.3 L1146.3 479.2 L1146.8 479.1 L1147.4 479.0 L1147.9 478.9 L1148.5 478.8 L1149.2 478.7 L1149.8 478.5 L1150.5 478.4 L1151.2 478.3 L1151.9 478.2 L1152.7 478.0 L1153.5 477.9 L1154.3 477.8 L1155.1 477.6 L1156.0 477.5 L1156.9 477.3 L1157.9 477.2 L1158.9 477.0 L1159.9 476.8 L1161.0 476.6 L1162.1 476.4 L1163.2 476.3 L1164.4 476.1 L1165.7 475.9 L1167.0 475.6 L1168.3 475.4 L1169.8 475.2 L1171.2 475.0 L1172.7 474.7 L1174.3 474.5 L1175.9 474.2 L1177.6 473.9 L1179.4 473.7 L1181.3 473.4 L1183.2 473.1 L1185.2 472.8 L1187.2 472.5 L1189.4 472.2 L1191.6 471.8 L1193.9 471.5 L1196.3 471.1 L1198.8 470.8 L1201.4 470.4 L1204.1 470.0 L1206.9 469.6 L1209.9 469.2 L1212.9 468.8 L1216.1 468.4 L1219.3 468.0 L1222.8 467.5 L1226.3 467.1 L1230.0 466.6 L1233.8 466.1 L1237.8 465.7 L1241.9 465.2 L1246.2 464.7 L1250.7 464.2 L1255.4 463.7 L1260.2 463.1 L1265.2 462.6 L1270.4 462.1 L1275.8 461.6 L1281.5 461.0 L1287.3 460.5 L1293.4 460.0 L1299.8 459.4 L1306.3 458.8 L1313.2 458.2 L1320.3 457.5 L1327.7 456.8 L1335.3 455.9 L1343.3 454.9 L1351.6 453.8 L1360.2 452.5 L1369.2 451.1 L1378.5 449.4 L1388.2 447.4 L1398.2 445.3 L1408.7 442.8 L1419.5 440.1 L1430.8 437.0 L1442.6 433.8 L1454.8 430.3 L1467.4 426.6 L1480.6 422.9 L1494.3 419.3 L1508.6 415.9 L1523.4 412.9 L1525.0 412.9 L1525.0 485.5 L1134.8 485.5 L1134.8 480.9Z" fill="#123270"/>
<path d="M1136.6 481.4 L1136.8 481.4 L1137.0 481.4 L1137.1 481.3 L1137.3 481.3 L1137.5 481.3 L1137.7 481.3 L1137.9 481.2 L1138.1 481.2 L1138.3 481.2 L1138.5 481.1 L1138.7 481.1 L1139.0 481.1 L1139.2 481.0 L1139.5 481.0 L1139.7 480.9 L1140.0 480.9 L1140.3 480.9 L1140.6 480.8 L1140.9 480.8 L1141.2 480.7 L1141.6 480.7 L1141.9 480.6 L1142.3 480.6 L1142.7 480.5 L1143.1 480.5 L1143.5 480.4 L1143.9 480.3 L1144.3 480.3 L1144.8 480.2 L1145.3 480.1 L1145.8 480.1 L1146.3 480.0 L1146.8 479.9 L1147.4 479.8 L1147.9 479.8 L1148.5 479.7 L1149.2 479.6 L1149.8 479.5 L1150.5 479.4 L1151.2 479.3 L1151.9 479.2 L1152.7 479.1 L1153.5 479.0 L1154.3 478.9 L1155.1 478.7 L1156.0 478.6 L1156.9 478.5 L1157.9 478.4 L1158.9 478.2 L1159.9 478.1 L1161.0 477.9 L1162.1 477.8 L1163.2 477.6 L1164.4 477.5 L1165.7 477.3 L1167.0 477.1 L1168.3 476.9 L1169.8 476.8 L1171.2 476.6 L1172.7 476.4 L1174.3 476.2 L1175.9 476.0 L1177.6 475.7 L1179.4 475.5 L1181.3 475.3 L1183.2 475.0 L1185.2 474.8 L1187.2 474.6 L1189.4 474.3 L1191.6 474.0 L1193.9 473.8 L1196.3 473.5 L1198.8 473.2 L1201.4 472.9 L1204.1 472.6 L1206.9 472.3 L1209.9 472.0 L1212.9 471.6 L1216.1 471.3 L1219.3 470.9 L1222.8 470.6 L1226.3 470.2 L1230.0 469.9 L1233.8 469.5 L1237.8 469.1 L1241.9 468.8 L1246.2 468.4 L1250.7 468.0 L1255.4 467.6 L1260.2 467.2 L1265.2 466.8 L1270.4 466.4 L1275.8 466.0 L1281.5 465.6 L1287.3 465.2 L1293.4 464.8 L1299.8 464.4 L1306.3 464.0 L1313.2 463.6 L1320.3 463.0 L1327.7 462.5 L1335.3 461.8 L1343.3 461.0 L1351.6 460.1 L1360.2 459.1 L1369.2 457.9 L1378.5 456.4 L1388.2 454.8 L1398.2 452.8 L1408.7 450.7 L1419.5 448.2 L1430.8 445.5 L1442.6 442.6 L1454.8 439.4 L1467.4 436.1 L1480.6 432.7 L1494.3 429.4 L1508.6 426.2 L1523.4 423.4 L1525.0 423.4 L1525.0 485.5 L1134.8 485.5 L1134.8 481.4Z" fill="#0a2e58"/>
<path d="M1136.6 481.9 L1136.8 481.9 L1137.0 481.9 L1137.1 481.8 L1137.3 481.8 L1137.5 481.8 L1137.7 481.8 L1137.9 481.8 L1138.1 481.7 L1138.3 481.7 L1138.5 481.7 L1138.7 481.7 L1139.0 481.6 L1139.2 481.6 L1139.5 481.6 L1139.7 481.5 L1140.0 481.5 L1140.3 481.5 L1140.6 481.4 L1140.9 481.4 L1141.2 481.4 L1141.6 481.3 L1141.9 481.3 L1142.3 481.2 L1142.7 481.2 L1143.1 481.2 L1143.5 481.1 L1143.9 481.1 L1144.3 481.0 L1144.8 481.0 L1145.3 480.9 L1145.8 480.9 L1146.3 480.8 L1146.8 480.7 L1147.4 480.7 L1147.9 480.6 L1148.5 480.5 L1149.2 480.5 L1149.8 480.4 L1150.5 480.3 L1151.2 480.2 L1151.9 480.2 L1152.7 480.1 L1153.5 480.0 L1154.3 479.9 L1155.1 479.8 L1156.0 479.7 L1156.9 479.6 L1157.9 479.5 L1158.9 479.4 L1159.9 479.3 L1161.0 479.2 L1162.1 479.1 L1163.2 479.0 L1164.4 478.8 L1165.7 478.7 L1167.0 478.6 L1168.3 478.4 L1169.8 478.3 L1171.2 478.1 L1172.7 478.0 L1174.3 477.8 L1175.9 477.7 L1177.6 477.5 L1179.4 477.3 L1181.3 477.2 L1183.2 477.0 L1185.2 476.8 L1187.2 476.6 L1189.4 476.4 L1191.6 476.2 L1193.9 476.0 L1196.3 475.8 L1198.8 475.6 L1201.4 475.3 L1204.1 475.1 L1206.9 474.9 L1209.9 474.6 L1212.9 474.4 L1216.1 474.2 L1219.3 473.9 L1222.8 473.6 L1226.3 473.4 L1230.0 473.1 L1233.8 472.9 L1237.8 472.6 L1241.9 472.3 L1246.2 472.1 L1250.7 471.8 L1255.4 471.5 L1260.2 471.2 L1265.2 471.0 L1270.4 470.7 L1275.8 470.5 L1281.5 470.2 L1287.3 470.0 L1293.4 469.7 L1299.8 469.5 L1306.3 469.2 L1313.2 468.9 L1320.3 468.6 L1327.7 468.3 L1335.3 467.8 L1343.3 467.3 L1351.6 466.7 L1360.2 466.0 L1369.2 465.2 L1378.5 464.2 L1388.2 463.0 L1398.2 461.7 L1408.7 460.1 L1419.5 458.4 L1430.8 456.5 L1442.6 454.3 L1454.8 452.0 L1467.4 449.6 L1480.6 447.2 L1494.3 444.7 L1508.6 442.4 L1523.4 440.4 L1525.0 440.4 L1525.0 485.5 L1134.8 485.5 L1134.8 481.9Z" fill="#062845"/>
<path d="M1136.6 482.7 L1136.8 482.7 L1137.0 482.7 L1137.1 482.7 L1137.3 482.7 L1137.5 482.7 L1137.7 482.7 L1137.9 482.7 L1138.1 482.6 L1138.3 482.6 L1138.5 482.6 L1138.7 482.6 L1139.0 482.6 L1139.2 482.6 L1139.5 482.5 L1139.7 482.5 L1140.0 482.5 L1140.3 482.5 L1140.6 482.5 L1140.9 482.4 L1141.2 482.4 L1141.6 482.4 L1141.9 482.4 L1142.3 482.3 L1142.7 482.3 L1143.1 482.3 L1143.5 482.3 L1143.9 482.2 L1144.3 482.2 L1144.8 482.2 L1145.3 482.1 L1145.8 482.1 L1146.3 482.1 L1146.8 482.0 L1147.4 482.0 L1147.9 482.0 L1148.5 481.9 L1149.2 481.9 L1149.8 481.8 L1150.5 481.8 L1151.2 481.8 L1151.9 481.7 L1152.7 481.7 L1153.5 481.6 L1154.3 481.6 L1155.1 481.5 L1156.0 481.4 L1156.9 481.4 L1157.9 481.3 L1158.9 481.3 L1159.9 481.2 L1161.0 481.1 L1162.1 481.1 L1163.2 481.0 L1164.4 480.9 L1165.7 480.8 L1167.0 480.7 L1168.3 480.7 L1169.8 480.6 L1171.2 480.5 L1172.7 480.4 L1174.3 480.3 L1175.9 480.2 L1177.6 480.1 L1179.4 480.0 L1181.3 479.9 L1183.2 479.8 L1185.2 479.7 L1187.2 479.6 L1189.4 479.5 L1191.6 479.4 L1193.9 479.2 L1196.3 479.1 L1198.8 479.0 L1201.4 478.8 L1204.1 478.7 L1206.9 478.6 L1209.9 478.4 L1212.9 478.3 L1216.1 478.2 L1219.3 478.0 L1222.8 477.9 L1226.3 477.7 L1230.0 477.6 L1233.8 477.4 L1237.8 477.3 L1241.9 477.1 L1246.2 476.9 L1250.7 476.8 L1255.4 476.6 L1260.2 476.5 L1265.2 476.4 L1270.4 476.2 L1275.8 476.1 L1281.5 475.9 L1287.3 475.8 L1293.4 475.7 L1299.8 475.5 L1306.3 475.4 L1313.2 475.3 L1320.3 475.1 L1327.7 474.9 L1335.3 474.7 L1343.3 474.4 L1351.6 474.1 L1360.2 473.7 L1369.2 473.3 L1378.5 472.7 L1388.2 472.1 L1398.2 471.4 L1408.7 470.5 L1419.5 469.6 L1430.8 468.5 L1442.6 467.3 L1454.8 466.1 L1467.4 464.8 L1480.6 463.4 L1494.3 462.1 L1508.6 460.9 L1523.4 459.7 L1525.0 459.7 L1525.0 485.5 L1134.8 485.5 L1134.8 482.7Z" fill="#042333"/>
</g>
<rect x="1132.7" y="117.3" width="394.6" height="371.0" fill="none" stroke="#a9a9a9" stroke-width="1.2"/>
<path d="M1211.6 488.3v-4 M1211.6 117.3v4 M1132.7 414.1h4 M1527.3 414.1h-4 M1290.5 488.3v-4 M1290.5 117.3v4 M1132.7 339.9h4 M1527.3 339.9h-4 M1369.5 488.3v-4 M1369.5 117.3v4 M1132.7 265.7h4 M1527.3 265.7h-4 M1448.4 488.3v-4 M1448.4 117.3v4 M1132.7 191.5h4 M1527.3 191.5h-4" stroke="#777" stroke-width="0.9" fill="none"/>
<text class="ss" font-size="41.4" transform="translate(105.8 30.8) scale(1 1.04)" fill="#000">Temperature: <tspan fill="#0f2468">300 K</tspan></text>
<text class="ss" font-size="41.4" transform="translate(194.8 81.3) scale(1 1.04)" fill="#000" xml:space="preserve">Material: <tspan fill="#0f2468">Au</tspan></text>
<text class="ss" font-size="41.4" transform="translate(610.5 32.2) scale(1 1.04)" fill="#000">Temperature: <tspan fill="#0f2468">500 K</tspan></text>
<text class="ss" font-size="41.4" transform="translate(700.5 82.6) scale(1 1.04)" fill="#000" xml:space="preserve">Material: <tspan fill="#0f2468">SiO<tspan font-size="28" dy="10">2</tspan></tspan></text>
<text class="ss" font-size="41.4" transform="translate(1126.2 33.0) scale(1 1.04)" fill="#000">Temperature: <tspan fill="#0f2468">1000 K</tspan></text>
<text class="ss" font-size="41.4" transform="translate(1216.8 83.6) scale(1 1.04)" fill="#000" xml:space="preserve">Material: <tspan fill="#0f2468"> VO<tspan font-size="28" dy="10">2</tspan></tspan></text>
<text class="sr" font-size="49" x="1.0" y="63.7" fill="#111">a.)</text>
<text class="sr" font-size="49" x="519.5" y="67.1" fill="#111">b.)</text>
<text class="sr" font-size="49" x="1038.5" y="64.4" fill="#111">c.)</text>
<text class="sr" font-size="35" x="86.6" y="497.2" text-anchor="end" fill="#111">0</text>
<text class="sr" font-size="35" x="86.6" y="423.6" text-anchor="end" fill="#111">2</text>
<text class="sr" font-size="35" x="86.6" y="349.9" text-anchor="end" fill="#111">4</text>
<text class="sr" font-size="35" x="86.6" y="276.3" text-anchor="end" fill="#111">6</text>
<text class="sr" font-size="35" x="86.6" y="202.6" text-anchor="end" fill="#111">8</text>
<text class="sr" font-size="35" x="86.6" y="129.0" text-anchor="end" fill="#111">10</text>
<text class="sr" font-size="35" x="176.7" y="526.4" text-anchor="middle" fill="#111">2</text>
<text class="sr" font-size="35" x="253.7" y="526.4" text-anchor="middle" fill="#111">4</text>
<text class="sr" font-size="35" x="332.8" y="526.4" text-anchor="middle" fill="#111">6</text>
<text class="sr" font-size="35" x="412.2" y="526.4" text-anchor="middle" fill="#111">8</text>
<text class="sr" font-size="35" x="478.8" y="526.4" text-anchor="middle" fill="#111">10</text>
<text class="sb" font-size="42" x="214.6" y="584.5" fill="#111">X<tspan font-size="27" dy="9.2">span</tspan><tspan font-size="35.5" dy="-9.2"> (μm)</tspan></text>
<text class="sb" font-size="42" transform="translate(30.1 393.3) rotate(-90)" fill="#111">Z<tspan font-size="27" dy="9.2">span</tspan><tspan font-size="35.5" dy="-9.2"> (μm)</tspan></text>
<text class="sr" font-size="35" x="596.7" y="500.7" text-anchor="end" fill="#111">0</text>
<text class="sr" font-size="35" x="596.7" y="426.8" text-anchor="end" fill="#111">2</text>
<text class="sr" font-size="35" x="596.7" y="353.0" text-anchor="end" fill="#111">4</text>
<text class="sr" font-size="35" x="596.7" y="279.1" text-anchor="end" fill="#111">6</text>
<text class="sr" font-size="35" x="596.7" y="205.3" text-anchor="end" fill="#111">8</text>
<text class="sr" font-size="35" x="596.7" y="131.4" text-anchor="end" fill="#111">10</text>
<text class="sr" font-size="35" x="686.1" y="526.4" text-anchor="middle" fill="#111">2</text>
<text class="sr" font-size="35" x="764.7" y="526.4" text-anchor="middle" fill="#111">4</text>
<text class="sr" font-size="35" x="843.3" y="526.4" text-anchor="middle" fill="#111">6</text>
<text class="sr" font-size="35" x="921.9" y="526.4" text-anchor="middle" fill="#111">8</text>
<text class="sr" font-size="35" x="1002.2" y="526.4" text-anchor="middle" fill="#111">10</text>
<text class="sb" font-size="42" x="725.5" y="584.5" fill="#111">X<tspan font-size="27" dy="9.2">span</tspan><tspan font-size="35.5" dy="-9.2"> (μm)</tspan></text>
<text class="sb" font-size="42" transform="translate(540.6 393.3) rotate(-90)" fill="#111">Z<tspan font-size="27" dy="9.2">span</tspan><tspan font-size="35.5" dy="-9.2"> (μm)</tspan></text>
<text class="sr" font-size="35" x="1110.2" y="502.7" text-anchor="end" fill="#111">0</text>
<text class="sr" font-size="35" x="1110.2" y="428.5" text-anchor="end" fill="#111">2</text>
<text class="sr" font-size="35" x="1110.2" y="354.3" text-anchor="end" fill="#111">4</text>
<text class="sr" font-size="35" x="1110.2" y="280.1" text-anchor="end" fill="#111">6</text>
<text class="sr" font-size="35" x="1110.2" y="205.9" text-anchor="end" fill="#111">8</text>
<text class="sr" font-size="35" x="1110.2" y="131.7" text-anchor="end" fill="#111">10</text>
<text class="sr" font-size="35" x="1199.6" y="526.4" text-anchor="middle" fill="#111">2</text>
<text class="sr" font-size="35" x="1278.5" y="526.4" text-anchor="middle" fill="#111">4</text>
<text class="sr" font-size="35" x="1357.5" y="526.4" text-anchor="middle" fill="#111">6</text>
<text class="sr" font-size="35" x="1436.4" y="526.4" text-anchor="middle" fill="#111">8</text>
<text class="sr" font-size="35" x="1503.8" y="526.4" text-anchor="middle" fill="#111">10</text>
<text class="sb" font-size="42" x="1239.2" y="584.5" fill="#111">X<tspan font-size="27" dy="9.2">span</tspan><tspan font-size="35.5" dy="-9.2"> (μm)</tspan></text>
<text class="sb" font-size="42" transform="translate(1055.2 393.3) rotate(-90)" fill="#111">Z<tspan font-size="27" dy="9.2">span</tspan><tspan font-size="35.5" dy="-9.2"> (μm)</tspan></text>
<rect x="435.50" y="633.8" width="26.03" height="30.2" fill="#042333" shape-rendering="crispEdges"/>
<rect x="461.03" y="633.8" width="26.03" height="30.2" fill="#062845" shape-rendering="crispEdges"/>
<rect x="486.57" y="633.8" width="26.03" height="30.2" fill="#0a2e58" shape-rendering="crispEdges"/>
<rect x="512.10" y="633.8" width="26.03" height="30.2" fill="#123270" shape-rendering="crispEdges"/>
<rect x="537.63" y="633.8" width="26.03" height="30.2" fill="#1c3484" shape-rendering="crispEdges"/>
<rect x="563.17" y="633.8" width="26.03" height="30.2" fill="#303399" shape-rendering="crispEdges"/>
<rect x="588.70" y="633.8" width="26.03" height="30.2" fill="#4235a0" shape-rendering="crispEdges"/>
<rect x="614.23" y="633.8" width="26.03" height="30.2" fill="#53399e" shape-rendering="crispEdges"/>
<rect x="639.77" y="633.8" width="26.03" height="30.2" fill="#62409a" shape-rendering="crispEdges"/>
<rect x="665.30" y="633.8" width="26.03" height="30.2" fill="#6f4695" shape-rendering="crispEdges"/>
<rect x="690.83" y="633.8" width="26.03" height="30.2" fill="#7b4b91" shape-rendering="crispEdges"/>
<rect x="716.37" y="633.8" width="26.03" height="30.2" fill="#87508e" shape-rendering="crispEdges"/>
<rect x="741.90" y="633.8" width="26.03" height="30.2" fill="#94558b" shape-rendering="crispEdges"/>
<rect x="767.43" y="633.8" width="26.03" height="30.2" fill="#a15a87" shape-rendering="crispEdges"/>
<rect x="792.97" y="633.8" width="26.03" height="30.2" fill="#ae5f83" shape-rendering="crispEdges"/>
<rect x="818.50" y="633.8" width="26.03" height="30.2" fill="#b9627f" shape-rendering="crispEdges"/>
<rect x="844.03" y="633.8" width="26.03" height="30.2" fill="#c56778" shape-rendering="crispEdges"/>
<rect x="869.57" y="633.8" width="26.03" height="30.2" fill="#d06b72" shape-rendering="crispEdges"/>
<rect x="895.10" y="633.8" width="26.03" height="30.2" fill="#db706b" shape-rendering="crispEdges"/>
<rect x="920.63" y="633.8" width="26.03" height="30.2" fill="#e67763" shape-rendering="crispEdges"/>
<rect x="946.17" y="633.8" width="26.03" height="30.2" fill="#ee815a" shape-rendering="crispEdges"/>
<rect x="971.70" y="633.8" width="26.03" height="30.2" fill="#f58b4f" shape-rendering="crispEdges"/>
<rect x="997.23" y="633.8" width="26.03" height="30.2" fill="#f99644" shape-rendering="crispEdges"/>
<rect x="1022.77" y="633.8" width="26.03" height="30.2" fill="#fba23d" shape-rendering="crispEdges"/>
<rect x="1048.30" y="633.8" width="26.03" height="30.2" fill="#fbaf3b" shape-rendering="crispEdges"/>
<rect x="1073.83" y="633.8" width="26.03" height="30.2" fill="#f9bc3e" shape-rendering="crispEdges"/>
<rect x="1099.37" y="633.8" width="26.03" height="30.2" fill="#f7c945" shape-rendering="crispEdges"/>
<rect x="1124.90" y="633.8" width="26.03" height="30.2" fill="#f3d74d" shape-rendering="crispEdges"/>
<rect x="1150.43" y="633.8" width="26.03" height="30.2" fill="#efe655" shape-rendering="crispEdges"/>
<rect x="1175.97" y="633.8" width="25.53" height="30.2" fill="#e8f75b" shape-rendering="crispEdges"/>
<rect x="435.5" y="633.8" width="766.0" height="30.2" fill="none" stroke="#3a3a3a" stroke-width="1.1"/>
<path d="M588.7 664.0v-7 M741.9 664.0v-7 M895.1 664.0v-7 M1048.3 664.0v-7" stroke="#222" stroke-width="1.4" fill="none"/>
<text class="sr" font-size="35" x="435.5" y="703" text-anchor="middle" fill="#111">0</text>
<text class="sr" font-size="35" x="591.7" y="703" text-anchor="middle" fill="#111">0.2</text>
<text class="sr" font-size="35" x="744.9" y="703" text-anchor="middle" fill="#111">0.4</text>
<text class="sr" font-size="35" x="898.1" y="703" text-anchor="middle" fill="#111">0.6</text>
<text class="sr" font-size="35" x="1051.3" y="703" text-anchor="middle" fill="#111">0.8</text>
<text class="sr" font-size="35" x="1201.5" y="703" text-anchor="middle" fill="#111">1</text>
<text class="si" font-size="30.5" x="521.7" y="784.7" textLength="69.5" lengthAdjust="spacing" fill="#111" font-weight="bold">FOM</text>
<text class="sr" font-size="36" x="602.0" y="789.5" fill="#111" stroke="#111" stroke-width="0.6">=</text>
<rect x="632.8" y="775.4" width="421.8" height="2" fill="#111"/>
<text class="si" font-size="30.5" x="634.2" y="761.2" fill="#111">P</text>
<text class="si" font-size="25.5" x="650.5" y="767.0" textLength="93.0" lengthAdjust="spacing" fill="#111">max,rad</text>
<text class="sr" font-size="36" x="754.5" y="763.9" fill="#111" stroke="#111" stroke-width="0.6">−</text>
<text class="si" font-size="30.5" x="785.8" y="761.2" fill="#111">P</text>
<text class="si" font-size="25.5" x="802.0" y="767.0" textLength="38.5" lengthAdjust="spacing" fill="#111">rad</text>
<text class="sr" font-size="36" x="851.0" y="763.9" fill="#111" stroke="#111" stroke-width="0.6">+</text>
<text class="si" font-size="30.5" x="881.5" y="761.2" fill="#111">P</text>
<text class="si" font-size="25.5" x="898.5" y="767.0" textLength="59.0" lengthAdjust="spacing" fill="#111">trans</text>
<text class="sr" font-size="36" x="968.5" y="763.9" fill="#111" stroke="#111" stroke-width="0.6">+</text>
<text class="si" font-size="30.5" x="998.8" y="761.2" fill="#111">P</text>
<text class="si" font-size="25.5" x="1016.0" y="767.0" textLength="35.5" lengthAdjust="spacing" fill="#111">abs</text>
<text class="si" font-size="30.5" x="732.0" y="805.2" fill="#111">P</text>
<text class="si" font-size="25.5" x="746.5" y="811.0" textLength="57.5" lengthAdjust="spacing" fill="#111">solar</text>
<text class="sr" font-size="36" x="815.0" y="807.9" fill="#111" stroke="#111" stroke-width="0.6">+</text>
<text class="si" font-size="30.5" x="845.3" y="805.2" fill="#111">P</text>
<text class="si" font-size="25.5" x="862.5" y="811.0" textLength="92.0" lengthAdjust="spacing" fill="#111">max,rad</text>
<rect x="1331" y="722" width="7" height="1" fill="#999"/>
</svg></body></html>
